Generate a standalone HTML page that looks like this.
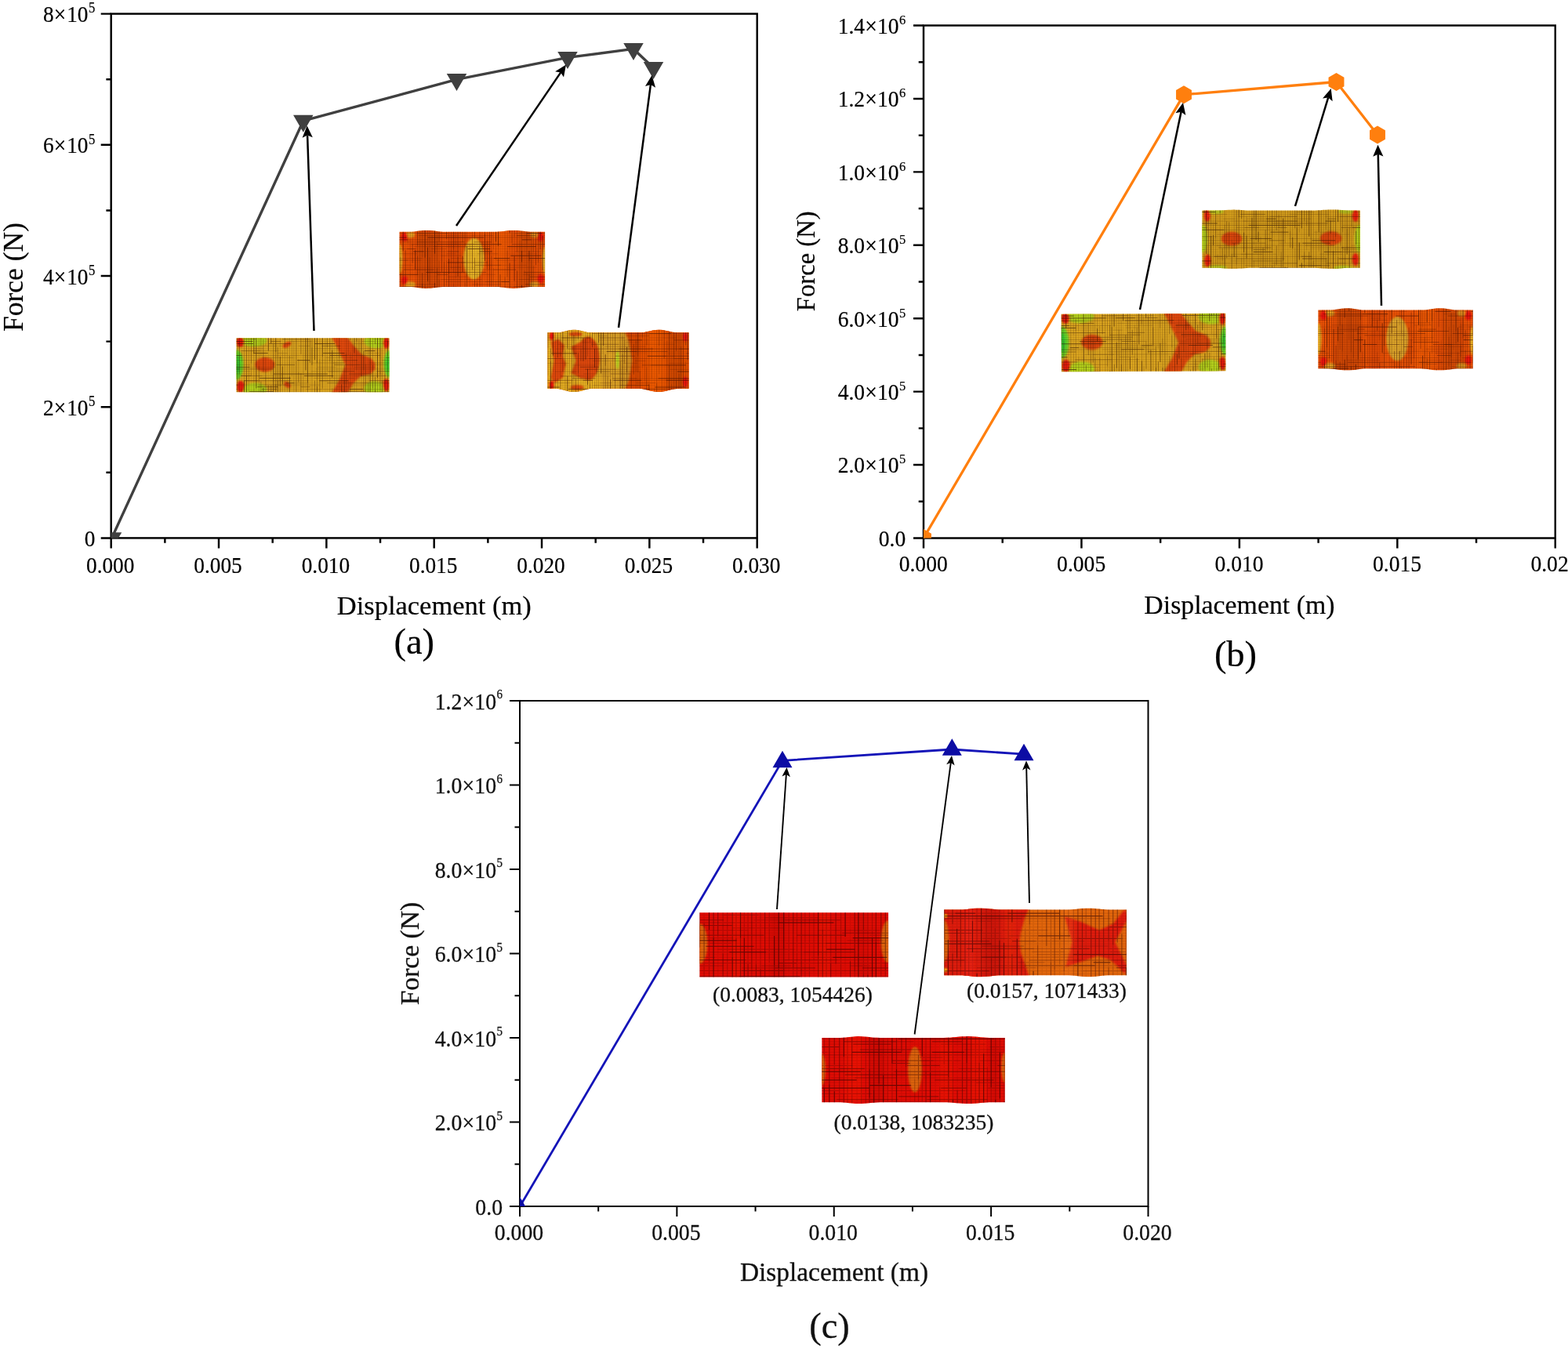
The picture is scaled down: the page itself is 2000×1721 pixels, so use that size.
<!DOCTYPE html>
<html lang="en">
<head>
<meta charset="utf-8">
<title>Force–displacement curves</title>
<style>
html,body{margin:0;padding:0;background:#fff;}
body{width:2000px;height:1721px;overflow:hidden;font-family:"Liberation Serif", "DejaVu Serif", serif;}
svg{display:block;}
</style>
</head>
<body>
<svg width="2000" height="1721" viewBox="0 0 2000 1721" font-family='"Liberation Serif", "DejaVu Serif", serif'>
<defs>
<filter id="b0.8" x="-20%" y="-20%" width="140%" height="140%"><feGaussianBlur stdDeviation="0.8"/></filter>
<filter id="b1.2" x="-20%" y="-20%" width="140%" height="140%"><feGaussianBlur stdDeviation="1.2"/></filter>
<filter id="b1.8" x="-20%" y="-20%" width="140%" height="140%"><feGaussianBlur stdDeviation="1.8"/></filter>
<filter id="b2.5" x="-20%" y="-20%" width="140%" height="140%"><feGaussianBlur stdDeviation="2.5"/></filter>
<clipPath id="clipA"><rect x="141.7" y="17.6" width="824" height="668.8"/></clipPath>
<clipPath id="clipB"><rect x="1178" y="32.5" width="805.75" height="654"/></clipPath>
<clipPath id="clipC"><rect x="663" y="894" width="801.5" height="645"/></clipPath>
<clipPath id="fc1"><path d="M0 0H195V69H0Z"/></clipPath>
<clipPath id="fc2"><path d="M0 0L3.1 0L6.2 0L9.3 0L12.4 0L15.5 -0.06L18.6 -0.3L21.7 -0.68L24.8 -1.11L27.9 -1.53L31 -1.84L34.1 -1.99L37.2 -1.95L40.3 -1.73L43.4 -1.36L46.5 -0.93L49.6 -0.51L52.7 -0.18L55.8 -0.01L58.9 0L62 0L65.1 0L68.2 0L71.3 0L74.4 0L77.5 0L80.6 0L83.7 0L86.8 0L89.9 0L93 0L96.1 0L99.2 0L102.3 0L105.4 0L108.5 0L111.6 0L114.7 0L117.8 0L120.9 0L124 0L127.1 -0.1L130.2 -0.37L133.3 -0.76L136.4 -1.2L139.5 -1.6L142.6 -1.88L145.7 -2L148.8 -1.92L151.9 -1.67L155 -1.28L158.1 -0.84L161.2 -0.44L164.3 -0.14L167.4 0L170.5 0L173.6 0L176.7 0L179.8 0L182.9 0L186 0L186 70.2L182.9 70.2L179.8 70.2L176.7 70.2L173.6 70.2L170.5 70.2L167.4 70.26L164.3 70.47L161.2 70.79L158.1 71.19L155 71.58L151.9 71.92L148.8 72.13L145.7 72.2L142.6 72.1L139.5 71.86L136.4 71.51L133.3 71.11L130.2 70.72L127.1 70.41L124 70.23L120.9 70.2L117.8 70.2L114.7 70.2L111.6 70.2L108.5 70.2L105.4 70.2L102.3 70.2L99.2 70.2L96.1 70.2L93 70.2L89.9 70.2L86.8 70.2L83.7 70.2L80.6 70.2L77.5 70.2L74.4 70.2L71.3 70.2L68.2 70.2L65.1 70.2L62 70.2L58.9 70.2L55.8 70.29L52.7 70.52L49.6 70.87L46.5 71.27L43.4 71.65L40.3 71.97L37.2 72.16L34.1 72.19L31 72.07L27.9 71.8L24.8 71.43L21.7 71.03L18.6 70.66L15.5 70.37L12.4 70.22L9.3 70.2L6.2 70.2L3.1 70.2L0 70.2Z"/></clipPath>
<clipPath id="fc3"><path d="M0 0L3.01 0L6.01 0L9.02 0L12.03 0L15.03 -0.17L18.04 -0.63L21.05 -1.3L24.05 -2.07L27.06 -2.79L30.07 -3.32L33.07 -3.58L36.08 -3.52L39.09 -3.15L42.09 -2.53L45.1 -1.77L48.11 -1.03L51.11 -0.42L54.12 -0.06L57.13 0L60.13 0L63.14 0L66.15 0L69.15 0L72.16 0L75.17 0L78.17 0L81.18 0L84.19 0L87.19 0L90.2 0L93.21 0L96.21 0L99.22 0L102.23 0L105.23 0L108.24 0L111.25 0L114.25 0L117.26 0L120.27 -0.08L123.27 -0.41L126.28 -0.96L129.29 -1.63L132.29 -2.33L135.3 -2.95L138.31 -3.39L141.31 -3.59L144.32 -3.52L147.33 -3.18L150.33 -2.63L153.34 -1.96L156.35 -1.26L159.35 -0.64L162.36 -0.2L165.37 -0.01L168.37 0L171.38 0L174.39 0L177.39 0L180.4 0L180.4 71.5L177.39 71.5L174.39 71.5L171.38 71.5L168.37 71.5L165.37 71.61L162.36 71.97L159.35 72.55L156.35 73.26L153.34 74.02L150.33 74.72L147.33 75.28L144.32 75.62L141.31 75.69L138.31 75.49L135.3 75.05L132.29 74.41L129.29 73.67L126.28 72.92L123.27 72.26L120.27 71.77L117.26 71.52L114.25 71.5L111.25 71.5L108.24 71.5L105.23 71.5L102.23 71.5L99.22 71.5L96.21 71.5L93.21 71.5L90.2 71.5L87.19 71.5L84.19 71.5L81.18 71.5L78.17 71.5L75.17 71.5L72.16 71.5L69.15 71.5L66.15 71.5L63.14 71.5L60.13 71.5L57.13 71.51L54.12 71.77L51.11 72.3L48.11 73.03L45.1 73.85L42.09 74.63L39.09 75.25L36.08 75.62L33.07 75.68L30.07 75.43L27.06 74.89L24.05 74.16L21.05 73.34L18.04 72.56L15.03 71.94L12.03 71.57L9.02 71.5L6.01 71.5L3.01 71.5L0 71.5Z"/></clipPath>
<clipPath id="fc4"><path d="M0 0H209.5V73.6H0Z"/></clipPath>
<clipPath id="fc5"><path d="M0 0L3.36 0L6.72 0L10.08 0L13.45 0L16.81 0L20.17 -0.07L23.53 -0.22L26.89 -0.43L30.25 -0.65L33.62 -0.84L36.98 -0.96L40.34 -1L43.7 -0.94L47.06 -0.8L50.42 -0.6L53.79 -0.38L57.15 -0.19L60.51 -0.05L63.87 0L67.23 0L70.59 0L73.96 0L77.32 0L80.68 0L84.04 0L87.4 0L90.77 0L94.13 0L97.49 0L100.85 0L104.21 0L107.57 0L110.93 0L114.3 0L117.66 0L121.02 0L124.38 0L127.74 0L131.1 0L134.47 0L137.83 0L141.19 0L144.55 -0.06L147.91 -0.23L151.28 -0.47L154.64 -0.73L158 -0.97L161.36 -1.13L164.72 -1.2L168.08 -1.15L171.44 -1L174.81 -0.77L178.17 -0.51L181.53 -0.26L184.89 -0.08L188.25 0L191.61 0L194.98 0L198.34 0L201.7 0L201.7 73.2L198.34 73.2L194.98 73.2L191.61 73.2L188.25 73.2L184.89 73.27L181.53 73.42L178.17 73.62L174.81 73.84L171.44 74.03L168.08 74.16L164.72 74.2L161.36 74.14L158 74L154.64 73.81L151.27 73.59L147.91 73.39L144.55 73.25L141.19 73.2L137.83 73.2L134.47 73.2L131.1 73.2L127.74 73.2L124.38 73.2L121.02 73.2L117.66 73.2L114.3 73.2L110.93 73.2L107.57 73.2L104.21 73.2L100.85 73.2L97.49 73.2L94.13 73.2L90.77 73.2L87.4 73.2L84.04 73.2L80.68 73.2L77.32 73.2L73.96 73.2L70.59 73.2L67.23 73.2L63.87 73.2L60.51 73.25L57.15 73.39L53.79 73.58L50.42 73.8L47.06 74L43.7 74.14L40.34 74.2L36.98 74.16L33.62 74.04L30.25 73.85L26.89 73.63L23.53 73.42L20.17 73.27L16.81 73.2L13.45 73.2L10.09 73.2L6.72 73.2L3.36 73.2L0 73.2Z"/></clipPath>
<clipPath id="fc6"><path d="M0 0L3.29 0L6.58 0L9.88 0L13.17 0L16.46 -0.08L19.75 -0.36L23.04 -0.81L26.33 -1.34L29.62 -1.83L32.92 -2.21L36.21 -2.39L39.5 -2.34L42.79 -2.07L46.08 -1.64L49.38 -1.11L52.67 -0.61L55.96 -0.22L59.25 -0.02L62.54 0L65.83 0L69.12 0L72.42 0L75.71 0L79 0L82.29 0L85.58 0L88.88 0L92.17 0L95.46 0L98.75 0L102.04 0L105.33 0L108.62 0L111.92 0L115.21 0L118.5 0L121.79 0L125.08 0L128.38 0L131.67 0L134.96 -0.12L138.25 -0.44L141.54 -0.91L144.83 -1.44L148.12 -1.92L151.42 -2.26L154.71 -2.4L158 -2.31L161.29 -2L164.58 -1.54L167.88 -1.01L171.17 -0.52L174.46 -0.16L177.75 0L181.04 0L184.33 0L187.62 0L190.92 0L194.21 0L197.5 0L197.5 74.6L194.21 74.6L190.92 74.6L187.62 74.6L184.33 74.6L181.04 74.6L177.75 74.67L174.46 74.92L171.17 75.31L167.88 75.78L164.58 76.26L161.29 76.66L158 76.92L154.71 77L151.42 76.88L148.12 76.59L144.83 76.17L141.54 75.69L138.25 75.23L134.96 74.86L131.67 74.64L128.38 74.6L125.08 74.6L121.79 74.6L118.5 74.6L115.21 74.6L111.92 74.6L108.62 74.6L105.33 74.6L102.04 74.6L98.75 74.6L95.46 74.6L92.17 74.6L88.88 74.6L85.58 74.6L82.29 74.6L79 74.6L75.71 74.6L72.42 74.6L69.12 74.6L65.83 74.6L62.54 74.6L59.25 74.7L55.96 74.99L52.67 75.4L49.38 75.88L46.08 76.34L42.79 76.72L39.5 76.95L36.21 76.99L32.92 76.84L29.62 76.52L26.33 76.08L23.04 75.6L19.75 75.15L16.46 74.8L13.17 74.62L9.88 74.6L6.58 74.6L3.29 74.6L0 74.6Z"/></clipPath>
<clipPath id="fc7"><path d="M0 0H240.7V82.3H0Z"/></clipPath>
<clipPath id="fc8"><path d="M0 0L3.88 0L7.76 0L11.64 0L15.52 0L19.4 0L23.28 -0.08L27.16 -0.35L31.04 -0.77L34.92 -1.23L38.8 -1.64L42.68 -1.92L46.56 -2L50.44 -1.86L54.32 -1.54L58.2 -1.1L62.08 -0.64L65.96 -0.25L69.84 -0.03L73.72 0L77.6 0L81.48 0L85.36 0L89.24 0L93.12 0L97 0L100.88 0L104.76 0L108.64 0L112.52 0L116.4 0L120.28 0L124.16 0L128.04 0L131.92 0L135.8 0L139.68 0L143.56 0L147.44 0L151.32 0L155.2 0L159.08 -0.01L162.96 -0.17L166.84 -0.52L170.72 -0.97L174.6 -1.42L178.48 -1.79L182.36 -1.98L186.24 -1.96L190.12 -1.74L194 -1.35L197.88 -0.89L201.76 -0.46L205.64 -0.14L209.52 0L213.4 0L217.28 0L221.16 0L225.04 0L228.92 0L232.8 0L232.8 83.7L228.92 83.7L225.04 83.7L221.16 83.7L217.28 83.7L213.4 83.7L209.52 83.74L205.64 83.94L201.76 84.29L197.88 84.71L194 85.13L190.12 85.47L186.24 85.67L182.36 85.68L178.48 85.51L174.6 85.19L170.72 84.78L166.84 84.35L162.96 83.99L159.08 83.76L155.2 83.7L151.32 83.7L147.44 83.7L143.56 83.7L139.68 83.7L135.8 83.7L131.92 83.7L128.04 83.7L124.16 83.7L120.28 83.7L116.4 83.7L112.52 83.7L108.64 83.7L104.76 83.7L100.88 83.7L97 83.7L93.12 83.7L89.24 83.7L85.36 83.7L81.48 83.7L77.6 83.7L73.72 83.7L69.84 83.81L65.96 84.08L62.08 84.47L58.2 84.9L54.32 85.3L50.44 85.58L46.56 85.7L42.68 85.63L38.8 85.39L34.92 85.02L31.04 84.59L27.16 84.18L23.28 83.87L19.4 83.71L15.52 83.7L11.64 83.7L7.76 83.7L3.88 83.7L0 83.7Z"/></clipPath>
<clipPath id="fc9"><path d="M0 0L3.89 0L7.79 0L11.68 0L15.57 0L19.47 0L23.36 0L27.25 -0.08L31.15 -0.37L35.04 -0.79L38.93 -1.24L42.83 -1.6L46.72 -1.79L50.61 -1.75L54.51 -1.49L58.4 -1.09L62.29 -0.63L66.19 -0.25L70.08 -0.03L73.97 0L77.87 0L81.76 0L85.65 0L89.55 0L93.44 0L97.33 0L101.23 0L105.12 0L109.01 0L112.91 0L116.8 0L120.69 0L124.59 0L128.48 0L132.37 0L136.27 0L140.16 0L144.05 0L147.95 0L151.84 0L155.73 0L159.63 -0.06L163.52 -0.26L167.41 -0.57L171.31 -0.93L175.2 -1.28L179.09 -1.57L182.99 -1.76L186.88 -1.8L190.77 -1.69L194.67 -1.45L198.56 -1.13L202.45 -0.76L206.35 -0.42L210.24 -0.16L214.13 -0.02L218.03 0L221.92 0L225.81 0L229.71 0L233.6 0L233.6 82.4L229.71 82.4L225.81 82.4L221.92 82.4L218.03 82.4L214.13 82.42L210.24 82.56L206.35 82.82L202.45 83.16L198.56 83.53L194.67 83.85L190.77 84.09L186.88 84.2L182.99 84.16L179.09 83.97L175.2 83.68L171.31 83.33L167.41 82.97L163.52 82.66L159.63 82.46L155.73 82.4L151.84 82.4L147.95 82.4L144.05 82.4L140.16 82.4L136.27 82.4L132.37 82.4L128.48 82.4L124.59 82.4L120.69 82.4L116.8 82.4L112.91 82.4L109.01 82.4L105.12 82.4L101.23 82.4L97.33 82.4L93.44 82.4L89.55 82.4L85.65 82.4L81.76 82.4L77.87 82.4L73.97 82.4L70.08 82.5L66.19 82.77L62.29 83.16L58.4 83.58L54.51 83.94L50.61 84.16L46.72 84.19L42.83 84.03L38.93 83.71L35.04 83.3L31.15 82.9L27.25 82.58L23.36 82.41L19.47 82.4L15.57 82.4L11.68 82.4L7.79 82.4L3.89 82.4L0 82.4Z"/></clipPath>
</defs>
<rect width="2000" height="1721" fill="#fff"/>
<g stroke="#000" stroke-width="2.45" fill="none" stroke-linecap="butt">
<rect x="141.7" y="17.6" width="824" height="668.8"/>
<path d="M141.7 686.4v13M210.37 686.4v6.3M279.03 686.4v13M347.7 686.4v6.3M416.37 686.4v13M485.03 686.4v6.3M553.7 686.4v13M622.37 686.4v6.3M691.03 686.4v13M759.7 686.4v6.3M828.37 686.4v13M897.03 686.4v6.3M965.7 686.4v13M141.7 686.4h-13M141.7 602.8h-6.3M141.7 519.2h-13M141.7 435.6h-6.3M141.7 352h-13M141.7 268.4h-6.3M141.7 184.8h-13M141.7 101.2h-6.3M141.7 17.6h-13"/>
</g>
<g font-family='"Liberation Serif", "DejaVu Serif", serif' fill="#000" stroke="#000" stroke-width="0.2" stroke-linejoin="round">
<text transform="translate(140.7 730.6) scale(0.905 1)" font-size="30.2" text-anchor="middle">0.000</text>
<text transform="translate(278.03 730.6) scale(0.905 1)" font-size="30.2" text-anchor="middle">0.005</text>
<text transform="translate(415.37 730.6) scale(0.905 1)" font-size="30.2" text-anchor="middle">0.010</text>
<text transform="translate(552.7 730.6) scale(0.905 1)" font-size="30.2" text-anchor="middle">0.015</text>
<text transform="translate(690.03 730.6) scale(0.905 1)" font-size="30.2" text-anchor="middle">0.020</text>
<text transform="translate(827.37 730.6) scale(0.905 1)" font-size="30.2" text-anchor="middle">0.025</text>
<text transform="translate(964.7 730.6) scale(0.905 1)" font-size="30.2" text-anchor="middle">0.030</text>
<text transform="translate(121.3 697) scale(0.905 1)" font-size="30.2" text-anchor="end">0</text>
<text transform="translate(121.3 529.8) scale(0.905 1)" font-size="30.2" text-anchor="end">2<tspan dx="0.2">×</tspan><tspan dx="1.0">10</tspan><tspan font-size="18.5" dy="-11.8" dx="0.5">5</tspan></text>
<text transform="translate(121.3 362.6) scale(0.905 1)" font-size="30.2" text-anchor="end">4<tspan dx="0.2">×</tspan><tspan dx="1.0">10</tspan><tspan font-size="18.5" dy="-11.8" dx="0.5">5</tspan></text>
<text transform="translate(121.3 195.4) scale(0.905 1)" font-size="30.2" text-anchor="end">6<tspan dx="0.2">×</tspan><tspan dx="1.0">10</tspan><tspan font-size="18.5" dy="-11.8" dx="0.5">5</tspan></text>
<text transform="translate(121.3 28.2) scale(0.905 1)" font-size="30.2" text-anchor="end">8<tspan dx="0.2">×</tspan><tspan dx="1.0">10</tspan><tspan font-size="18.5" dy="-11.8" dx="0.5">5</tspan></text>
<text x="553.8" y="784.2" font-size="34.5" text-anchor="middle">Displacement (m)</text>
<text transform="translate(28.8 353.5) rotate(-90) scale(1.0 1)" font-size="35.5" text-anchor="middle">Force (N)</text>
<text x="528.3" y="833.8" font-size="46.5" text-anchor="middle">(a)</text>
</g>
<g clip-path="url(#clipA)"><path d="M142.5 686.5L386.8 154.2L582.5 101.4L724 73.4L808 62.4L833.5 86.4" fill="none" stroke="#404040" stroke-width="3.4" stroke-linejoin="round"/><path d="M129.75 679.17h25.5L142.5 701.17ZM374.05 146.87h25.5L386.8 168.87ZM569.75 94.07h25.5L582.5 116.07ZM711.25 66.07h25.5L724 88.07ZM795.25 55.07h25.5L808 77.07ZM820.75 79.07h25.5L833.5 101.07Z" fill="#404040"/></g>
<g stroke="#000" stroke-width="2.45" fill="none" stroke-linecap="butt">
<rect x="1178" y="32.5" width="805.75" height="654"/>
<path d="M1178 686.5v13M1278.72 686.5v6.3M1379.44 686.5v13M1480.16 686.5v6.3M1580.88 686.5v13M1681.59 686.5v6.3M1782.31 686.5v13M1883.03 686.5v6.3M1983.75 686.5v13M1178 686.5h-13M1178 639.79h-6.3M1178 593.07h-13M1178 546.36h-6.3M1178 499.64h-13M1178 452.93h-6.3M1178 406.21h-13M1178 359.5h-6.3M1178 312.79h-13M1178 266.07h-6.3M1178 219.36h-13M1178 172.64h-6.3M1178 125.93h-13M1178 79.21h-6.3M1178 32.5h-13"/>
</g>
<g font-family='"Liberation Serif", "DejaVu Serif", serif' fill="#000" stroke="#000" stroke-width="0.2" stroke-linejoin="round">
<text transform="translate(1177.7 728.8) scale(0.945 1)" font-size="29.2" text-anchor="middle">0.000</text>
<text transform="translate(1379.14 728.8) scale(0.945 1)" font-size="29.2" text-anchor="middle">0.005</text>
<text transform="translate(1580.58 728.8) scale(0.945 1)" font-size="29.2" text-anchor="middle">0.010</text>
<text transform="translate(1782.01 728.8) scale(0.945 1)" font-size="29.2" text-anchor="middle">0.015</text>
<text transform="translate(1983.45 728.8) scale(0.945 1)" font-size="29.2" text-anchor="middle">0.020</text>
<text transform="translate(1155.3 696.8) scale(0.945 1)" font-size="29.2" text-anchor="end">0.0</text>
<text transform="translate(1155.3 603.37) scale(0.945 1)" font-size="29.2" text-anchor="end">2.0<tspan dx="0">×</tspan><tspan dx="0.3">10</tspan><tspan font-size="17.5" dy="-12" dx="0.5">5</tspan></text>
<text transform="translate(1155.3 509.94) scale(0.945 1)" font-size="29.2" text-anchor="end">4.0<tspan dx="0">×</tspan><tspan dx="0.3">10</tspan><tspan font-size="17.5" dy="-12" dx="0.5">5</tspan></text>
<text transform="translate(1155.3 416.51) scale(0.945 1)" font-size="29.2" text-anchor="end">6.0<tspan dx="0">×</tspan><tspan dx="0.3">10</tspan><tspan font-size="17.5" dy="-12" dx="0.5">5</tspan></text>
<text transform="translate(1155.3 323.09) scale(0.945 1)" font-size="29.2" text-anchor="end">8.0<tspan dx="0">×</tspan><tspan dx="0.3">10</tspan><tspan font-size="17.5" dy="-12" dx="0.5">5</tspan></text>
<text transform="translate(1155.3 229.66) scale(0.945 1)" font-size="29.2" text-anchor="end">1.0<tspan dx="0">×</tspan><tspan dx="0.3">10</tspan><tspan font-size="17.5" dy="-12" dx="0.5">6</tspan></text>
<text transform="translate(1155.3 136.23) scale(0.945 1)" font-size="29.2" text-anchor="end">1.2<tspan dx="0">×</tspan><tspan dx="0.3">10</tspan><tspan font-size="17.5" dy="-12" dx="0.5">6</tspan></text>
<text transform="translate(1155.3 42.8) scale(0.945 1)" font-size="29.2" text-anchor="end">1.4<tspan dx="0">×</tspan><tspan dx="0.3">10</tspan><tspan font-size="17.5" dy="-12" dx="0.5">6</tspan></text>
<text x="1580.9" y="783.4" font-size="33.8" text-anchor="middle">Displacement (m)</text>
<text transform="translate(1039 333.3) rotate(-90) scale(0.947 1)" font-size="34.5" text-anchor="middle">Force (N)</text>
<text x="1576" y="850" font-size="46.5" text-anchor="middle">(b)</text>
</g>
<g clip-path="url(#clipB)"><path d="M1178 686.5L1510 120.7L1704.5 104.5L1757 172" fill="none" stroke="#ff7f0e" stroke-width="3.3" stroke-linejoin="round"/><path d="M1178 675L1168.04 680.75L1168.04 692.25L1178 698L1187.96 692.25L1187.96 680.75ZM1510 109.2L1500.04 114.95L1500.04 126.45L1510 132.2L1519.96 126.45L1519.96 114.95ZM1704.5 93L1694.54 98.75L1694.54 110.25L1704.5 116L1714.46 110.25L1714.46 98.75ZM1757 160.5L1747.04 166.25L1747.04 177.75L1757 183.5L1766.96 177.75L1766.96 166.25Z" fill="#ff7f0e"/></g>
<g>
<g stroke="#000" stroke-width="2.0" fill="none" stroke-linecap="butt">
<rect x="663" y="894" width="801.5" height="645"/>
<path d="M663 1539v13M763.19 1539v6.5M863.38 1539v13M963.56 1539v6.5M1063.75 1539v13M1163.94 1539v6.5M1264.12 1539v13M1364.31 1539v6.5M1464.5 1539v13M663 1539h-13M663 1485.25h-6.5M663 1431.5h-13M663 1377.75h-6.5M663 1324h-13M663 1270.25h-6.5M663 1216.5h-13M663 1162.75h-6.5M663 1109h-13M663 1055.25h-6.5M663 1001.5h-13M663 947.75h-6.5M663 894h-13"/>
</g>
<g font-family='"Liberation Serif", "DejaVu Serif", serif' fill="#111" stroke="#111" stroke-width="0.3" stroke-linejoin="round">
<text transform="translate(662 1582) scale(0.94 1)" font-size="29.5" text-anchor="middle">0.000</text>
<text transform="translate(862.38 1582) scale(0.94 1)" font-size="29.5" text-anchor="middle">0.005</text>
<text transform="translate(1062.75 1582) scale(0.94 1)" font-size="29.5" text-anchor="middle">0.010</text>
<text transform="translate(1263.12 1582) scale(0.94 1)" font-size="29.5" text-anchor="middle">0.015</text>
<text transform="translate(1463.5 1582) scale(0.94 1)" font-size="29.5" text-anchor="middle">0.020</text>
<text transform="translate(641 1549.5) scale(0.94 1)" font-size="29.5" text-anchor="end">0.0</text>
<text transform="translate(641 1442) scale(0.94 1)" font-size="29.5" text-anchor="end">2.0<tspan dx="0">×</tspan><tspan dx="0.3">10</tspan><tspan font-size="16" dy="-13.5" dx="0.5">5</tspan></text>
<text transform="translate(641 1334.5) scale(0.94 1)" font-size="29.5" text-anchor="end">4.0<tspan dx="0">×</tspan><tspan dx="0.3">10</tspan><tspan font-size="16" dy="-13.5" dx="0.5">5</tspan></text>
<text transform="translate(641 1227) scale(0.94 1)" font-size="29.5" text-anchor="end">6.0<tspan dx="0">×</tspan><tspan dx="0.3">10</tspan><tspan font-size="16" dy="-13.5" dx="0.5">5</tspan></text>
<text transform="translate(641 1119.5) scale(0.94 1)" font-size="29.5" text-anchor="end">8.0<tspan dx="0">×</tspan><tspan dx="0.3">10</tspan><tspan font-size="16" dy="-13.5" dx="0.5">5</tspan></text>
<text transform="translate(641 1012) scale(0.94 1)" font-size="29.5" text-anchor="end">1.0<tspan dx="0">×</tspan><tspan dx="0.3">10</tspan><tspan font-size="16" dy="-13.5" dx="0.5">6</tspan></text>
<text transform="translate(641 904.5) scale(0.94 1)" font-size="29.5" text-anchor="end">1.2<tspan dx="0">×</tspan><tspan dx="0.3">10</tspan><tspan font-size="16" dy="-13.5" dx="0.5">6</tspan></text>
<text x="1064" y="1633.8" font-size="33.4" text-anchor="middle">Displacement (m)</text>
<text transform="translate(533.5 1216.6) rotate(-90) scale(1.0 1)" font-size="33.6" text-anchor="middle">Force (N)</text>
<text x="1058" y="1707" font-size="46.5" text-anchor="middle">(c)</text>
</g>
<g clip-path="url(#clipC)"><path d="M663 1539.3L998 970.4L1214.3 956L1306 962.2" fill="none" stroke="#1414b8" stroke-width="2.8" stroke-linejoin="round"/><path d="M650.5 1548.17h25L663 1526.67ZM985.5 979.17h25L998 957.67ZM1201.8 963.77h25L1214.3 942.27ZM1293.5 970.17h25L1306 948.67Z" fill="#0c0ca4"/></g>
</g>
<line x1="400.5" y1="422" x2="392.1" y2="172.49" stroke="#000" stroke-width="2.5"/><path d="M391.7 160.5L398.8 175.27L392.1 172.49L385.61 175.71Z" fill="#000"/>
<line x1="582" y1="288" x2="715.24" y2="92.42" stroke="#000" stroke-width="2.5"/><path d="M722 82.5L719.01 98.61L715.24 92.42L708.1 91.18Z" fill="#000"/>
<line x1="789" y1="418" x2="829.93" y2="107.9" stroke="#000" stroke-width="2.5"/><path d="M831.5 96L836.08 111.73L829.93 107.9L822.99 110.01Z" fill="#000"/>
<line x1="1454" y1="395" x2="1506.55" y2="142.75" stroke="#000" stroke-width="2.5"/><path d="M1509 131L1512.4 147.03L1506.55 142.75L1499.48 144.34Z" fill="#000"/>
<line x1="1652" y1="263" x2="1694.2" y2="124.48" stroke="#000" stroke-width="2.5"/><path d="M1697.7 113L1699.64 129.27L1694.2 124.48L1687.01 125.43Z" fill="#000"/>
<line x1="1762" y1="390" x2="1757.76" y2="196.7" stroke="#000" stroke-width="2.5"/><path d="M1757.5 184.7L1764.43 199.55L1757.76 196.7L1751.23 199.84Z" fill="#000"/>
<g>
<line x1="991" y1="1160" x2="1002.88" y2="987.98" stroke="#000" stroke-width="1.9"/><path d="M1003.5 979L1007.91 991.33L1002.88 987.98L997.44 990.61Z" fill="#000"/>
<line x1="1166.6" y1="1319.5" x2="1212.81" y2="972.92" stroke="#000" stroke-width="1.9"/><path d="M1214 964L1217.62 976.59L1212.81 972.92L1207.21 975.2Z" fill="#000"/>
<line x1="1313" y1="1152" x2="1309.2" y2="979.6" stroke="#000" stroke-width="1.9"/><path d="M1309 970.6L1314.51 982.48L1309.2 979.6L1304.02 982.71Z" fill="#000"/>
<g font-family='"Liberation Serif", "DejaVu Serif", serif' fill="#111" stroke="#111" stroke-width="0.3">
<text x="1011" y="1278.3" font-size="27.5" text-anchor="middle">(0.0083, 1054426)</text>
<text x="1335" y="1273" font-size="27.5" text-anchor="middle">(0.0157, 1071433)</text>
<text x="1165.5" y="1441" font-size="27.5" text-anchor="middle">(0.0138, 1083235)</text>
</g></g>
<g transform="translate(301.5 431.3)"><g><g clip-path="url(#fc1)"><rect x="-5" y="-8" width="205" height="85" fill="#dca620"/><g filter="url(#b1.2)"><ellipse cx="22" cy="3" rx="17" ry="8" fill="#b4d21e"/><ellipse cx="24" cy="66" rx="15" ry="9" fill="#b4d21e"/><ellipse cx="178" cy="4" rx="15" ry="9" fill="#b4d21e"/><ellipse cx="176" cy="64" rx="13" ry="9" fill="#b4d21e"/><ellipse cx="0" cy="34" rx="9" ry="19" fill="#6ad428"/><ellipse cx="195" cy="33" rx="7" ry="17" fill="#6ad428"/><ellipse cx="1" cy="34" rx="4" ry="12" fill="#38d030"/><ellipse cx="194" cy="33" rx="3" ry="10" fill="#38d030"/><ellipse cx="36.4" cy="33.8" rx="12.6" ry="9.3" fill="#e04a0e"/><path d="M121 -2L141 -2L150 10L160 21L172 26L177 32L177 40L171 46L158 49L149 58L141.5 71L121 71L131 54L139 34.5L128 11Z" fill="#e04a0e"/><ellipse cx="5" cy="5" rx="5" ry="6.5" fill="#e61a0c"/><ellipse cx="5.5" cy="62" rx="5" ry="7.5" fill="#e61a0c"/><ellipse cx="191" cy="6" rx="4" ry="7.5" fill="#e61a0c"/><ellipse cx="191" cy="60" rx="4" ry="8" fill="#e61a0c"/><ellipse cx="64.4" cy="8.5" rx="6" ry="3.3" fill="#e04a0e" transform="rotate(-30 64.4 8.5)"/><ellipse cx="65" cy="59.6" rx="5" ry="3.3" fill="#e04a0e" transform="rotate(40 65 59.6)"/></g><g stroke="#260a00" stroke-width="0.85" fill="none" opacity="0.78"><path d="M6.91 -14.54v32.31M6.91 30.27v13.97M6.91 44.23v19.98M12.91 72.71v39.96M18.91 48.38v15.33M18.91 63.72v38.3M25.36 64.08v12.65M31.36 22.66v32.53M34.36 -16.67v18.03M34.36 43.35v20.23M37.36 9.94v14.59M40.81 16.25v44.25M44.26 7.1v18.73M44.26 46.72v14M52.81 -12.53v24.14M52.81 70.78v23.27M58.81 -11.79v12.41M58.81 0.62v14.99M64.81 -16.96v24.14M70.81 48.63v41.56M73.36 -17.5v21.13M79.36 -11.09v38.12M79.36 56.33v19.83M82.36 20.58v24.17M88.36 41.08v35.84M93.91 31.59v42.5M99.91 28.07v26.15M109.81 64.3v22.05M113.26 47.35v31.97M115.81 42.63v34.8M122.26 50.47v13.18M125.26 -9.05v36.12M134.26 -15.78v18.42M134.26 2.64v41.34M137.71 0.26v34.61M142.81 21.83v30.77M145.36 2.64v14.56M147.91 37.94v18.44M147.91 56.38v28.91M156.46 55.38v35.85M177.01 7.75v21.77M177.01 29.52v20.09M192.91 70.22v32.74M195.91 -12.25v32.57M195.91 20.32v29.87M24.61 1.4h34.07M93.34 1.4h33.07M126.4 1.4h32.42M158.82 1.4h14.52M20.9 4.3h22.83M56.64 4.3h12.36M95.92 4.3h30.56M126.48 4.3h33.27M176.14 4.3h12.45M21.56 7.2h19.67M69.07 7.2h30.61M125.59 7.2h23.75M188.37 7.2h25.48M57.95 10.1h21.05M93.64 10.1h15.32M132.59 10.1h34.36M166.95 10.1h11.73M178.68 10.1h18.88M197.56 10.1h35.25M-11.47 13.44h33.64M34.62 13.44h36.97M71.6 13.44h29.02M132.99 13.44h17.36M183.32 13.44h32.94M-14.07 16.34h19.99M54.12 16.34h39.57M93.69 16.34h10.12M103.81 16.34h12.68M116.48 16.34h26.24M142.72 16.34h20.86M176.88 16.34h37.47M-15.91 19.24h21.27M5.36 19.24h16.13M40.25 19.24h11.78M65.47 19.24h33.28M98.75 19.24h11.87M138.14 19.24h11.09M149.23 19.24h15.54M181.83 19.24h27.84M183.77 22.14h21.98M7.54 25.04h25.47M72.72 25.04h17.13M89.85 25.04h24.18M147.93 25.04h28.18M176.11 25.04h14.71M24.94 28.37h25.48M50.42 28.37h27.16M93.7 28.37h14.47M154.56 28.37h30.81M-9.04 31.71h33.68M24.64 31.71h37.5M62.15 31.71h34.79M137.96 31.71h19.34M157.31 31.71h12.28M17.6 34.17h33.53M74.49 34.17h31.35M105.84 34.17h18.8M193.14 34.17h37.05M49.77 37.07h12.61M62.37 37.07h21.3M83.67 37.07h19.29M127.06 37.07h23.41M177.46 37.07h15.38M192.84 37.07h11.09M47.23 39.54h37.81M85.04 39.54h16.16M17.87 42.44h28.26M46.13 42.44h19.93M66.06 42.44h29.52M150.57 42.44h28.34M20.02 45.77h27.22M116.46 45.77h27.02M187.35 45.77h22.52M-15.29 48.24h20.84M59.64 48.24h26.81M-7.86 51.14h26.44M18.58 51.14h10.96M69.15 51.14h29.75M150.49 51.14h34.11M184.6 51.14h15.99M200.59 51.14h14.29M-10.06 54.47h20.09M92.7 54.47h13.08M142.68 54.47h26.94M-14.25 57.37h13.52M-0.73 57.37h38.17M37.44 57.37h25.62M92.67 57.37h23M106.94 59.84h36.14M184.39 59.84h22.65M-6.99 62.3h33.77M52.91 62.3h10.02M62.93 62.3h18.98M93.79 62.3h34.46M148.95 62.3h11.38M160.32 62.3h36.96M1.29 65.2h30.78M51.55 65.2h36.98M-14.7 68.1h31.39M47.58 68.1h23.35M70.93 68.1h16.7M87.63 68.1h31.32M118.94 68.1h15.43" stroke-opacity="0.15"/><path d="M1.36 -13.6v42.5M1.36 57.66v18.09M3.91 -12.47v16.68M3.91 45.6v31.65M6.91 17.77v12.5M6.91 64.22v27.31M9.91 -13.19v33.13M9.91 19.94v33.86M12.91 -11.15v19.58M15.91 -17.27v13.73M15.91 -3.54v35.39M15.91 31.85v30.69M15.91 62.54v34.27M18.91 32.49v15.89M22.36 18.91v37.39M22.36 56.3v24.66M28.81 -9v44.65M28.81 56.17v22.86M31.36 10.15v12.51M37.36 -14.87v24.81M37.36 24.53v15.6M37.36 60.55v24.92M44.26 25.84v20.88M47.26 -8.92v16.57M55.81 -17.01v40.75M58.81 15.61v20.49M58.81 58.99v34.91M61.81 11.36v27.87M61.81 39.24v35.05M64.81 7.18v32.19M64.81 39.37v36.87M64.81 76.24v42.7M67.81 -11.27v33.97M70.81 -10.2v42.39M70.81 32.19v16.44M73.36 3.63v26.87M73.36 30.51v19.06M73.36 49.57v32.65M76.36 68.37v34.38M79.36 27.03v16.48M85.36 -13.35v13.19M85.36 -0.15v37.69M85.36 37.54v43.25M93.91 74.09v20M96.46 34.52v40.24M96.46 74.76v14.73M106.36 -17.49v14.84M106.36 -2.65v29.38M113.26 -13.24v30.91M113.26 17.67v29.68M115.81 12.06v30.57M119.26 29.8v25.34M119.26 55.13v28.27M122.26 -13.25v15.58M122.26 2.33v12.97M122.26 63.65v12.39M122.26 76.04v35.88M125.26 27.07v28.85M125.26 55.92v18.53M125.26 74.44v26.41M128.26 -16.25v32.32M128.26 16.07v40.51M128.26 56.58v19.21M131.26 26.12v41.79M134.26 43.97v14.91M137.71 -15.9v16.16M140.26 -15.05v32.94M140.26 62.85v38.49M142.81 -8.37v30.21M142.81 52.6v18.09M145.36 17.2v24.9M145.36 42.1v23.7M147.91 -16.44v17.98M147.91 1.54v36.4M150.46 19.24v32.77M150.46 52.01v31.79M153.46 41.04v38.88M156.46 18.13v37.25M159.46 49v13.64M159.46 62.64v43.73M162.46 -14.6v30.8M165.01 -9.15v15.57M165.01 6.42v26.64M165.01 70.18v12.36M168.01 -17.06v30.15M168.01 13.1v43.92M170.56 70.05v40.24M174.01 -8.59v43.19M174.01 63.99v24.06M180.01 50.55v26.17M180.01 76.73v44.11M183.46 66.61v13.66M186.01 -10.04v13.72M186.01 3.68v16.1M186.01 19.78v34.04M189.46 -16.15v16.52M189.46 0.37v16.25M189.46 16.62v28.6M192.91 -14.99v18.27M-9.54 1.4h20.15M173.34 1.4h35.09M68.99 4.3h26.93M159.74 4.3h16.4M188.59 4.3h31.75M-14.82 7.2h16.56M149.34 7.2h39.03M-6.24 10.1h30.31M24.07 10.1h33.88M79 10.1h14.64M22.17 13.44h12.45M100.62 13.44h32.37M150.36 13.44h32.96M30.56 16.34h12.17M42.73 16.34h11.39M52.02 19.24h13.44M164.77 19.24h17.06M7.13 22.14h38.12M45.25 22.14h38.26M83.51 22.14h35.6M-14.01 25.04h21.55M33.01 25.04h39.71M114.02 25.04h33.9M-7.31 28.37h32.25M108.17 28.37h20.55M185.37 28.37h32.46M96.94 31.71h26.3M169.59 31.71h24.02M193.6 31.71h20.79M-12.68 34.17h30.28M157.8 34.17h35.34M17.12 37.07h32.65M102.96 37.07h24.09M150.46 37.07h13.06M163.52 37.07h13.94M101.2 39.54h30.74M131.94 39.54h37.64M169.58 39.54h31.81M-15.82 42.44h33.69M95.58 42.44h21.33M-8.34 45.77h28.36M173.26 45.77h14.09M33.33 48.24h26.3M123.73 48.24h34.53M190.59 48.24h17.23M98.9 51.14h30.14M129.04 51.14h21.45M70.61 54.47h22.1M73.78 57.37h18.88M2.4 59.84h26.35M66.96 59.84h39.98M143.08 59.84h26.38M169.47 59.84h14.92M128.25 62.3h20.69M88.53 65.2h29.06M117.59 65.2h26.79M161.47 65.2h39.29M164.31 68.1h21.18M185.49 68.1h36.53" stroke-opacity="0.35"/><path d="M1.36 28.9v28.76M1.36 75.75v32.79M3.91 4.21v41.38M9.91 74.98v44.86M12.91 8.43v14.32M12.91 22.74v25.21M18.91 -11.33v43.81M25.36 76.73v44.86M28.81 35.64v20.52M31.36 -8.74v18.89M31.36 55.19v31.38M34.36 1.37v41.98M37.36 40.13v20.42M40.81 60.5v27.82M44.26 60.71v24.17M47.26 7.65v22.92M50.26 18.03v12.7M50.26 30.73v27.91M52.81 11.61v42.9M55.81 61.83v30.9M61.81 -16.38v14.76M61.81 -1.62v12.98M67.81 22.71v26.22M76.36 -15.16v39.78M76.36 24.62v22.57M76.36 47.19v21.18M79.36 43.51v12.82M79.36 76.16v13.55M82.36 -9.09v29.67M82.36 44.74v18.54M82.36 63.28v20.45M88.36 76.91v26.97M90.91 57.3v27.3M93.91 -8.99v40.58M96.46 -17.77v29.72M99.91 54.23v29.59M102.91 32.29v29.1M106.36 26.73v36.05M106.36 62.78v29.25M109.81 23.59v40.71M115.81 -13.16v25.22M119.26 -12.59v42.39M128.26 75.78v29.92M131.26 -10.33v36.45M137.71 34.87v18.63M140.26 17.9v44.95M145.36 -13.8v16.44M145.36 65.8v24.31M153.46 4.47v36.57M156.46 -16.8v34.93M162.46 41.05v33.19M165.01 33.06v37.12M168.01 57.01v44.84M174.01 34.61v29.38M177.01 -13.61v21.36M177.01 49.61v17.17M183.46 46.51v20.09M186.01 53.82v20.65M186.01 74.47v25.84M189.46 45.22v28.74M189.46 73.96v21.07M192.91 23.18v28.57M192.91 51.75v18.47M195.91 50.19v14.85M195.91 65.05v30.17M10.61 1.4h14M58.68 1.4h34.66M43.73 4.3h12.91M41.23 7.2h27.84M108.96 10.1h23.63M5.92 16.34h24.64M141.19 22.14h29.81M171 22.14h12.77M190.82 25.04h17.78M128.73 28.37h25.84M123.24 31.71h14.73M51.13 34.17h23.36M124.65 34.17h33.15M3.97 39.54h23.01M26.98 39.54h20.25M116.91 42.44h33.66M178.91 42.44h33M143.48 45.77h29.78M19.27 48.24h14.07M158.25 48.24h13.68M171.93 48.24h18.66M27.35 54.47h11.6M38.96 54.47h31.65M169.62 54.47h18.45M115.66 57.37h19.66M135.32 57.37h36.48M171.8 57.37h17.33M189.13 57.37h17.27M28.75 59.84h38.21M81.91 62.3h11.88M-14.79 65.2h16.08M32.07 65.2h19.48M200.76 65.2h19.18M134.38 68.1h29.94" stroke-opacity="0.6"/><path d="M9.91 53.8v21.18M12.91 47.96v24.75M22.36 -9.88v28.79M25.36 -8v40.52M25.36 32.52v31.56M34.36 63.58v36.4M40.81 -12.91v29.16M44.26 -14.14v21.25M47.26 30.57v29.22M47.26 59.79v31.47M50.26 -17.1v35.13M50.26 58.65v22.52M52.81 54.5v16.27M55.81 23.74v38.09M58.81 36.1v22.89M61.81 74.28v32.28M67.81 48.92v42.17M88.36 -11.94v38.13M88.36 26.2v14.88M90.91 -11.77v30.77M90.91 19v38.29M96.46 11.95v22.57M99.91 -12.21v21.08M99.91 8.87v19.2M102.91 -12.71v44.99M102.91 61.39v26.53M109.81 -10.57v34.15M122.26 15.31v35.17M131.26 67.91v22.39M134.26 58.88v26.35M137.71 53.5v42.08M142.81 70.69v39.73M150.46 -16.02v35.25M153.46 -16.05v20.52M159.46 -11.02v15.33M159.46 4.31v44.69M162.46 16.2v24.86M162.46 74.25v37.14M170.56 -13.49v34.06M170.56 20.56v24.75M170.56 45.32v24.73M177.01 66.77v24.87M180.01 -8.5v44.63M180.01 36.13v14.43M183.46 -8.98v38.74M183.46 29.75v16.76M192.91 3.28v19.9M-11.49 4.3h32.38M1.75 7.2h19.81M99.69 7.2h25.91M163.59 16.34h13.3M21.49 19.24h18.76M110.62 19.24h27.52M-14.95 22.14h22.07M119.11 22.14h22.08M77.57 28.37h16.13M-15.37 37.07h32.49M-7 39.54h10.97M47.25 45.77h38.01M85.25 45.77h31.2M5.55 48.24h13.72M86.45 48.24h37.28M29.54 51.14h39.61M10.03 54.47h17.32M105.78 54.47h36.9M188.07 54.47h23.91M63.06 57.37h10.73M-10.76 59.84h13.16M26.79 62.3h26.13M197.28 62.3h24.95M144.38 65.2h17.09M16.7 68.1h30.88" stroke-opacity="0.9"/></g></g></g></g>
<g transform="translate(509.3 295.7)"><g><g clip-path="url(#fc2)"><rect x="-5" y="-8" width="196" height="86.2" fill="#ea5206"/><g filter="url(#b1.2)"><ellipse cx="0" cy="34.62" rx="4" ry="19.23" fill="#e6b428"/><ellipse cx="186" cy="36.54" rx="3.5" ry="17.31" fill="#e6b428"/><ellipse cx="14" cy="3.85" rx="6" ry="3.85" fill="#e6b428" opacity="0.8"/><ellipse cx="14" cy="67.32" rx="7" ry="3.85" fill="#e6b428" opacity="0.8"/><ellipse cx="172" cy="67.32" rx="6" ry="3.85" fill="#e6b428" opacity="0.8"/><ellipse cx="172" cy="3.85" rx="5" ry="3.85" fill="#e6b428" opacity="0.7"/><ellipse cx="95.2" cy="34.43" rx="13.2" ry="26.45" fill="#e6b428"/><ellipse cx="6.6" cy="6.35" rx="4" ry="5.77" fill="#f01810"/><ellipse cx="6.6" cy="62.03" rx="4" ry="5.77" fill="#f01810"/><ellipse cx="180.4" cy="6.35" rx="4" ry="5.77" fill="#f01810"/><ellipse cx="180.4" cy="60.1" rx="4" ry="5.77" fill="#f01810"/></g><g filter="url(#b2.5)"><rect x="22" y="-8" width="30" height="86.2" fill="#7a2000" opacity="0.2"/><rect x="118" y="-8" width="22" height="86.2" fill="#ff6a08" opacity="0.25"/><rect x="150" y="-8" width="22" height="86.2" fill="#7a2000" opacity="0.18"/><rect x="62" y="-8" width="14" height="86.2" fill="#7a2000" opacity="0.12"/></g><g stroke="#2a0600" stroke-width="0.85" fill="none" opacity="0.8"><path d="M1.42 -14.57v33.99M7.87 -14.81v38.33M10.87 14.7v32.51M10.87 47.21v35M13.87 67.84v33.14M16.87 40.12v34.23M20.32 -13.73v37.25M20.32 48.09v13.08M20.32 61.17v34.3M26.32 69.88v30.11M29.32 32.53v19.97M41.77 -8.29v12.12M41.77 50.82v27.57M50.77 12.55v24.52M54.22 51.02v31.16M57.22 -11.24v34.61M60.22 9.14v28.02M60.22 68.77v41.18M66.22 47.12v37.92M69.22 52.19v13.72M71.77 17.27v22.14M71.77 58.86v20.31M80.77 51.35v29.25M89.77 -16.62v32.03M93.22 48.55v41.46M96.22 8.91v24.09M99.22 -15.54v39.69M99.22 24.15v14.06M99.22 38.21v14.78M109.12 37.19v16.69M109.12 53.88v28.02M120.22 22.17v23.97M123.22 35.51v27.18M128.77 -13.16v33.37M128.77 20.21v34.16M131.77 -15.93v19.54M131.77 3.61v34.7M131.77 38.31v21.04M131.77 59.35v19M143.77 32.19v39.42M150.22 25.65v24.11M153.67 -9.08v19.89M159.67 0.27v25.7M159.67 25.97v23.07M165.67 9.49v14.71M165.67 70.67v29.58M171.22 26.08v17.59M174.22 42.54v30.31M179.77 66.98v20.83M182.77 -17.11v22.45M185.77 49.96v38.66M92.49 1.95h15.06M107.55 1.95h23.43M130.98 1.95h16.05M-12.55 4.85h37.24M119.65 4.85h29.89M173.69 4.85h32.24M9.24 7.32h26.86M172.39 7.32h28.92M46.88 10.22h22.8M69.67 10.22h34.95M104.62 10.22h16M120.62 10.22h35.87M178.62 10.22h14.22M83.15 13.12h12.07M117.36 13.12h39.33M156.7 13.12h13.22M169.92 13.12h32.79M130.39 16.02h13.18M-9.41 18.92h13.59M4.18 18.92h14.74M116.2 18.92h21.6M174.51 18.92h28.23M21.23 21.82h19.46M60.07 21.82h15.22M75.29 21.82h11.99M115.97 21.82h10.18M126.15 21.82h20.66M146.81 21.82h20.31M167.12 21.82h22.71M189.84 21.82h11.79M-14.14 25.15h32.15M76.12 25.15h26.06M118.49 25.15h28.68M180.17 25.15h14.11M22.81 28.05h37.54M72.07 28.05h17.22M89.29 28.05h10.39M126.07 28.05h35.91M175.71 28.05h35.38M-10.72 30.52h29.23M18.51 30.52h34.6M78.98 30.52h22.83M101.81 30.52h24.28M126.1 30.52h15.9M181.1 30.52h34.32M-13.27 33.85h12.17M29.5 33.85h36.45M82.66 33.85h22.34M28.15 36.32h38.79M66.94 36.32h18.52M85.46 36.32h38.13M149.23 36.32h25.69M174.92 36.32h25M-11.33 39.22h37.51M26.18 39.22h35.31M113 39.22h38.02M151.02 39.22h20.49M171.51 39.22h21.97M17.94 42.55h16.24M34.17 42.55h37.72M71.9 42.55h24.66M162.8 42.55h26.22M189.02 42.55h27.22M102.71 45.45h34.22M175.68 45.45h13.76M189.44 45.45h22.16M-9.07 48.35h14.46M148.84 48.35h28.44M177.28 48.35h34.46M-0.88 51.69h35.05M110.91 51.69h31.24M142.15 51.69h16.65M36.09 54.59h12M62.37 54.59h22.57M122.93 54.59h34.97M181.02 54.59h14.24M-8.03 57.49h38.52M30.49 57.49h30.54M87.3 57.49h17.39M104.69 57.49h37M141.69 57.49h24.84M-7.98 60.82h32.25M24.27 60.82h28.64M105.37 60.82h13.53M118.9 60.82h33.51M2.72 63.72h31.68M34.4 63.72h24.63M140.5 63.72h27.25M178.56 63.72h31.9M-13.83 67.06h20.99M46.21 67.06h19.56M65.77 67.06h27.2M129.93 67.06h18.3M148.23 67.06h12.6M73.52 69.96h34.92M108.45 69.96h12.56M169.65 69.96h27.12" stroke-opacity="0.15"/><path d="M1.42 19.42v12.36M4.87 24.58v24.13M4.87 67.65v18.59M7.87 65.84v33.85M10.87 -17.47v15.71M10.87 -1.75v16.46M13.87 1.69v34.05M13.87 35.74v32.11M16.87 -17.76v33.9M16.87 74.35v19.75M23.32 -15.72v15.39M23.32 17.54v13.22M23.32 54.12v13.72M23.32 67.83v18.89M26.32 -14.97v40.23M26.32 25.26v44.62M29.32 -17.12v12.22M29.32 -4.9v37.43M32.77 33.06v34.06M36.22 -12.77v32.69M36.22 63.16v17.35M38.77 -10.78v43.15M38.77 67.33v19.06M41.77 3.84v30.41M41.77 34.25v16.57M45.22 28.11v37.09M48.22 -13.8v23.47M48.22 9.67v36.28M50.77 37.07v23.65M54.22 -12.92v32.17M57.22 23.38v14.99M60.22 37.16v31.61M63.22 -8.08v23.89M63.22 15.81v18.64M66.22 -13.01v24.83M66.22 11.83v35.3M69.22 22.99v29.21M69.22 65.92v30.82M71.77 -11.22v28.5M71.77 39.41v19.45M74.77 56.88v41.61M77.77 2.48v38.27M80.77 13.34v17.6M83.77 24.39v40.35M86.32 -0.15v18.45M89.77 15.4v34.6M89.77 50.01v26.8M93.22 -12.86v21.68M99.22 52.99v12.28M105.67 -14.29v27.21M105.67 46.36v38.4M112.12 -8.13v19.54M112.12 47.54v36.99M117.67 14.41v16.19M117.67 74.02v20.32M120.22 -9.19v31.37M120.22 46.14v32.49M123.22 12.61v22.9M123.22 62.69v25.19M126.22 18.12v16.68M134.77 -12.58v42.92M134.77 30.34v27.36M137.77 -13.9v37.88M137.77 57.74v40.02M140.77 1.75v38.07M143.77 14.27v17.92M143.77 71.61v26.95M146.77 6.44v24.53M146.77 62.81v16.82M150.22 -17.1v42.75M153.67 10.81v30.03M153.67 40.83v28.15M153.67 68.99v43.82M156.22 -12.36v12.71M156.22 0.35v23.85M156.22 38.77v29.23M159.67 -12v12.27M159.67 49.04v34.37M162.67 15.24v36.64M165.67 -14.5v23.99M168.67 -17.78v19.37M168.67 1.59v33.81M171.22 -10.85v36.93M171.22 43.67v32.54M171.22 76.2v15.1M174.22 -11.56v13.32M174.22 72.85v32.58M177.22 -17.37v13.9M177.22 39.28v35.31M179.77 22.42v44.56M182.77 48.99v33.79M185.77 15.89v34.07M-10.68 1.95h33.29M62.15 1.95h30.34M147.03 1.95h15.27M182.15 1.95h30.52M24.69 4.85h35.36M60.05 4.85h15.37M75.43 4.85h12.52M87.95 4.85h31.7M107.75 7.32h36.81M144.56 7.32h27.83M10.53 10.22h36.35M168.37 10.22h10.25M-6.89 13.12h29.53M-13.21 16.02h13.57M0.35 16.02h15.07M18.93 18.92h24.97M-9.12 21.82h18.94M40.69 21.82h19.39M31.28 25.15h30.54M147.17 25.15h12.43M159.6 25.15h20.57M-9.37 28.05h13.03M3.66 28.05h19.15M60.34 28.05h11.72M99.67 28.05h26.39M161.98 28.05h13.73M53.12 30.52h25.86M-1.09 33.85h15.48M14.39 33.85h15.11M65.95 33.85h16.71M105 33.85h15.35M140.69 33.85h24.9M10.74 36.32h17.41M123.59 36.32h11.99M135.57 36.32h13.66M-8.8 42.55h26.73M129.89 42.55h32.91M-9.71 45.45h25.14M15.44 45.45h26.51M41.94 45.45h23M79.28 45.45h23.42M136.92 45.45h16.15M153.08 45.45h22.6M44.23 48.35h23.39M67.62 48.35h24.3M91.92 48.35h12.98M104.9 48.35h15.25M24.14 54.59h11.95M84.93 54.59h38M157.9 54.59h23.12M61.04 57.49h26.26M52.92 60.82h27.3M80.22 60.82h25.15M152.4 60.82h32.31M184.72 60.82h34.24M-11.43 63.72h14.15M59.02 63.72h21M80.02 63.72h29.65M167.75 63.72h10.81M7.17 67.06h39.05M92.97 67.06h36.96M-13.38 69.96h16.38M27.35 69.96h20.64M47.99 69.96h25.53M121 69.96h13.6M134.6 69.96h10.97" stroke-opacity="0.35"/><path d="M1.42 31.78v21.04M1.42 52.82v34.79M4.87 48.72v18.94M7.87 23.52v42.32M13.87 -13.07v14.76M16.87 16.14v23.98M23.32 -0.33v17.88M23.32 30.76v23.36M29.32 52.5v13.32M32.77 67.12v15.9M38.77 32.37v34.97M48.22 45.95v12.56M48.22 58.51v41.83M50.77 -17.11v29.65M50.77 60.72v42.82M54.22 19.25v31.77M57.22 38.37v34.96M60.22 -9.76v18.9M63.22 53.73v28.53M69.22 -12.08v35.06M74.77 -10.86v42.89M77.77 -10.59v13.08M77.77 40.75v25.99M77.77 66.74v23.21M80.77 -11.85v25.19M83.77 -17.8v42.2M83.77 64.74v40.8M86.32 -13.56v13.4M86.32 56.98v44.39M89.77 76.81v33.5M93.22 8.82v39.73M96.22 -8.21v17.12M96.22 33v39.83M99.22 65.27v15.73M102.67 -17.23v35.95M102.67 58.62v31.58M105.67 12.92v33.45M109.12 -11.37v13.94M112.12 11.42v36.12M115.12 -15.65v41.1M115.12 48.75v32.97M117.67 -10.31v24.72M117.67 30.6v43.43M126.22 34.8v44.73M128.77 54.37v20.26M128.77 74.63v44.66M134.77 57.69v35.6M137.77 23.98v33.75M143.77 -14.9v29.17M146.77 -9.58v16.02M150.22 49.77v42.05M162.67 -10.2v25.44M162.67 51.89v37.64M165.67 37.6v16.64M168.67 35.4v30.79M168.67 66.18v36.8M174.22 1.77v40.77M177.22 -3.47v42.75M185.77 -16.6v32.5M22.61 1.95h39.55M149.54 4.85h24.16M22.64 13.12h35.19M57.84 13.12h25.32M95.23 13.12h22.14M15.43 16.02h32.27M143.57 16.02h30.88M174.45 16.02h17.7M43.89 18.92h35.75M79.64 18.92h36.56M9.82 21.82h11.41M61.81 25.15h14.31M-15.43 36.32h26.18M84.61 39.22h28.39M96.55 42.55h33.33M64.94 45.45h14.34M5.4 48.35h38.84M120.16 48.35h28.68M83.91 51.69h27.01M158.8 51.69h37.86M48.08 54.59h14.28M166.53 57.49h36.19M109.67 63.72h20.44M160.83 67.06h26.75M2.99 69.96h24.36M145.57 69.96h24.08" stroke-opacity="0.6"/><path d="M4.87 -8.02v32.6M20.32 23.52v24.57M29.32 65.83v44.47M32.77 -9.55v42.61M36.22 19.92v43.24M45.22 -14.25v42.36M45.22 65.2v31.42M57.22 73.33v33.76M63.22 34.46v19.27M74.77 32.04v24.84M80.77 30.94v20.4M86.32 18.3v38.69M96.22 72.83v30.11M102.67 18.71v39.9M109.12 2.56v34.62M115.12 25.45v23.3M123.22 -11.1v23.71M126.22 -14.21v32.33M140.77 -11.07v12.81M140.77 39.81v43.92M146.77 30.96v31.84M156.22 24.2v14.56M156.22 67.99v39.8M165.67 24.19v13.4M165.67 54.24v16.43M177.22 74.6v16.02M179.77 -14.1v36.52M182.77 5.33v43.66M162.3 1.95h19.84M-14.58 7.32h23.81M36.1 7.32h37.86M73.95 7.32h33.8M-7.63 10.22h18.16M156.49 10.22h11.87M47.7 16.02h23.08M70.78 16.02h22.19M92.97 16.02h37.42M137.8 18.92h36.71M87.28 21.82h28.69M18.01 25.15h13.26M102.18 25.15h16.31M141.99 30.52h23.97M165.96 30.52h15.14M120.35 33.85h20.35M165.59 33.85h37.74M61.49 39.22h23.13M-11.94 51.69h11.07M34.18 51.69h33.04M67.22 51.69h16.69M-12.28 54.59h36.42M130.11 63.72h10.39M187.58 67.06h22.8" stroke-opacity="0.9"/></g></g></g></g>
<g transform="translate(698.2 424.3)"><g><g clip-path="url(#fc3)"><rect x="-5" y="-8" width="190.4" height="87.5" fill="#ea5206"/><g filter="url(#b1.2)"><rect x="-5" y="-8" width="80" height="87.5" fill="#e6b024"/><path d="M4 12L14 8L22 16L20 30L24 40L20 58L10 64L4 58L8 36Z" fill="#e04a0e"/><ellipse cx="52" cy="33" rx="15" ry="28" fill="#e04a0e"/><path d="M30 18L45 10L45 60L30 52L36 36Z" fill="#e04a0e"/><ellipse cx="36" cy="2" rx="9" ry="3" fill="#e04a0e"/><ellipse cx="38" cy="70" rx="9" ry="3.5" fill="#e04a0e"/><path d="M68 -8L96 -8L104 12L108 36L104 60L96 80L68 80Z" fill="#dea428"/><ellipse cx="89.5" cy="35" rx="2" ry="12" fill="#b8d820"/><path d="M98 -8L190 -8L190 80L98 80L105 60L109 36L105 12Z" fill="#ea5206"/><ellipse cx="5.5" cy="4.5" rx="3.5" ry="6" fill="#f01810"/><ellipse cx="5.5" cy="67" rx="3.5" ry="6" fill="#f01810"/><ellipse cx="176" cy="5.5" rx="3.5" ry="6" fill="#f01810"/><ellipse cx="176" cy="63" rx="3.5" ry="7" fill="#f01810"/></g><g filter="url(#b2.5)"><rect x="128" y="-8" width="20" height="87.5" fill="#ff6a08" opacity="0.25"/><rect x="152" y="-8" width="20" height="87.5" fill="#7a2000" opacity="0.2"/><rect x="100" y="-8" width="16" height="87.5" fill="#7a2000" opacity="0.1"/></g><g stroke="#2a0600" stroke-width="0.85" fill="none" opacity="0.8"><path d="M0.78 54.71v36.22M4.23 -16.46v36.57M7.23 50.02v26.41M13.23 31.83v26.63M19.68 49.62v42.79M28.23 53.72v21.75M28.23 75.46v34.57M39.33 8.43v17.18M42.78 35.97v31.79M42.78 67.77v37.54M45.78 -17.91v24.86M45.78 36.37v16.9M45.78 53.27v24.16M48.78 34.48v44.67M48.78 79.15v29.66M51.33 30.24v16.15M57.33 18.75v41.62M60.33 44.81v17.51M65.43 78.53v12.12M68.43 52.19v24.37M73.98 -12.82v28.53M73.98 15.71v12.18M80.43 24.5v12.71M83.43 62.29v28.83M89.88 -8.93v35.52M89.88 26.6v17.89M89.88 44.48v30.04M89.88 74.53v36.27M101.43 -12.31v30.53M103.98 19.18v44.72M103.98 63.9v18.11M109.98 -9.11v23.51M109.98 53.46v36.75M121.08 45.46v25.91M124.08 61.96v16.88M133.08 -8.49v27.22M133.08 58.86v26.93M136.53 -8.43v35.85M136.53 27.42v44.08M142.53 52.98v25.96M148.98 33.27v28.14M148.98 61.41v35.88M152.43 -16.71v27.36M158.43 -8.02v35.67M158.43 27.65v37.76M164.43 23.32v17.79M173.43 69.66v42.38M176.43 16.14v20.95M-13.16 1.35h38.74M25.58 1.35h32.11M184.8 1.35h30.61M-14.16 4.25h24.91M10.75 4.25h26.09M36.83 4.25h12.33M49.17 4.25h15.92M76.51 4.25h24.2M129.95 4.25h30.69M160.64 4.25h19.04M55.2 6.72h11.51M99.24 6.72h30.19M165.43 6.72h16.19M181.62 6.72h39.67M46.97 9.62h18.6M147.31 9.62h14.15M183.28 9.62h19.44M-8.83 12.52h16.82M7.99 12.52h24.46M32.45 12.52h12M61 12.52h39.09M117.53 12.52h19.57M137.1 12.52h19.83M156.93 12.52h30.63M-9.67 14.98h22.41M31.63 14.98h24.39M162.59 14.98h38.34M-15.55 17.88h31.61M45.02 17.88h28.21M125.56 17.88h36M161.56 17.88h12.17M173.73 17.88h30.87M-14.24 20.78h24.93M-9.66 24.12h24.34M14.68 24.12h21.4M36.08 24.12h39.43M153.24 24.12h35.41M-10.14 26.58h15.16M37.8 26.58h38.96M76.76 26.58h26.25M103.01 26.58h12.4M115.41 26.58h28.34M143.75 26.58h33.55M-9.11 29.92h16.14M7.02 29.92h39.41M46.43 29.92h11.1M57.54 29.92h29.22M111.66 29.92h15.94M183.6 29.92h21.25M182.91 33.25h27.01M-8.78 36.15h37.91M29.13 36.15h28.54M99.31 36.15h12.22M125.37 36.15h16.29M141.66 36.15h38.86M180.52 36.15h11.13M27.85 39.05h38.72M66.57 39.05h18.89M85.46 39.05h11.08M114.78 39.05h24.31M139.09 39.05h15.52M-6.42 41.52h38.43M61.03 41.52h20.68M81.71 41.52h26.86M108.57 41.52h12.31M176.69 41.52h24.09M-6.57 43.98h30.34M23.76 43.98h18.01M65.94 43.98h28.47M118.6 43.98h33.37M151.97 43.98h36.84M-9.85 46.88h20.47M10.62 46.88h22.17M32.78 46.88h15.06M102.08 46.88h14.39M116.47 46.88h39.87M-11.13 49.78h20.92M37.24 49.78h25.1M119.63 49.78h31.32M150.95 49.78h14.73M-12.73 52.68h35.78M23.05 52.68h22.86M106.56 52.68h37.38M143.94 52.68h16.59M160.53 52.68h31.43M-8.79 55.58h25.83M80.81 55.58h18.17M98.98 55.58h20.68M119.67 55.58h23.52M143.19 55.58h35.11M178.29 55.58h30.88M-13.53 58.48h19.43M5.9 58.48h25.97M61.33 58.48h21.77M57.97 60.95h26.27M182.29 60.95h34.31M30.19 64.28h36.69M82.18 64.28h30.75M138 64.28h24.98M162.98 64.28h23.4M186.38 64.28h12.95M-8.49 67.18h30.24M21.74 67.18h36.52M129.66 67.18h10.37M140.03 67.18h17.48M157.51 67.18h35.95M15.61 69.65h29.44M45.05 69.65h39.2M84.26 69.65h26.63M110.88 69.65h26.35M-4.02 72.11h13.25M9.23 72.11h17.59M65.83 72.11h25.1" stroke-opacity="0.15"/><path d="M0.78 19.72v18.13M0.78 37.85v16.86M7.23 29.36v20.66M7.23 76.43v40.94M10.23 -12.87v36.92M10.23 24.05v26.18M10.23 50.22v26.18M13.23 58.46v18.69M13.23 77.15v20.36M16.68 30.54v30.15M22.68 -12.98v35.04M22.68 42.43v36.3M22.68 78.73v37.08M25.68 20.47v35.23M28.23 -13.81v31.51M28.23 17.7v36.01M33.78 -13.27v16.17M33.78 59.02v42.97M36.33 -8.06v23.05M36.33 14.99v44M39.33 51.65v19.1M42.78 -10.87v18.73M42.78 7.85v13.26M48.78 -8.33v16.23M51.33 -11.23v41.47M51.33 66.57v16.94M54.33 12.01v13.55M54.33 25.56v39.32M57.33 60.37v16.53M57.33 76.89v38.81M60.33 -9.49v30M60.33 62.32v29.3M62.88 -18v38.7M62.88 53.23v35.63M65.43 13.09v27.55M65.43 40.64v37.9M71.43 16.6v29.71M71.43 46.31v24.39M76.98 21.27v34.48M80.43 -12.28v36.78M80.43 37.21v22.44M83.43 -14.53v32.07M83.43 17.54v44.75M95.88 -11.8v16.11M98.43 -17.86v26.77M98.43 39.53v14.64M98.43 54.17v16.81M103.98 -13.55v32.72M112.98 -11.05v21.82M112.98 49.37v25.78M112.98 75.15v36.53M115.53 51.09v19.25M115.53 70.34v15.41M118.08 -8.46v41.54M118.08 33.08v16.52M121.08 6.45v39.01M121.08 71.37v12.04M124.08 -11.48v26.14M124.08 14.66v23.78M124.08 38.44v23.52M124.08 78.84v17.59M126.63 15.79v28.23M129.63 -16v25.14M129.63 9.14v42.09M129.63 51.23v14.65M133.08 18.73v40.13M136.53 71.5v21.01M139.53 -9.91v41.97M139.53 32.06v32.32M142.53 16.72v36.26M142.53 78.94v35.07M145.98 -11.93v42.23M145.98 30.3v40.56M145.98 70.86v28.25M152.43 10.65v39.36M152.43 50.01v36.12M155.43 28.72v12.57M158.43 65.41v31.64M161.43 32.27v24.6M161.43 56.87v44.97M164.43 41.11v19.93M167.88 -14.98v28.63M167.88 13.65v38.81M170.43 -9.07v26.6M170.43 72.39v27.31M176.43 37.08v41M178.98 34.86v36.63M157.91 1.35h14.66M172.57 1.35h12.23M65.09 4.25h11.42M100.71 4.25h29.24M179.68 4.25h29.47M-13.97 6.72h32.28M129.43 6.72h36M-8.81 9.62h33.81M24.99 9.62h21.98M65.57 9.62h37.48M120.81 9.62h26.51M44.45 12.52h16.55M100.09 12.52h17.44M12.74 14.98h18.89M90.96 14.98h28.51M119.48 14.98h20.67M140.15 14.98h22.45M16.07 17.88h28.95M73.22 17.88h30.04M103.27 17.88h22.3M10.7 20.78h15.44M18.38 33.25h34.55M87.58 33.25h20.35M107.93 33.25h16.11M124.04 33.25h36.67M57.67 36.15h11.59M69.26 36.15h30.05M111.53 36.15h13.84M-6.38 39.05h34.23M96.54 39.05h18.23M154.61 39.05h37.82M32.01 41.52h29.03M94.41 43.98h24.19M87.59 46.88h14.49M156.34 46.88h13.07M169.41 46.88h27.61M9.8 49.78h27.44M79.88 49.78h39.75M45.91 52.68h34.93M41.76 55.58h39.05M114.25 58.48h26.98M32.65 60.95h12.72M119.9 60.95h20.25M140.15 60.95h11.22M-7.26 64.28h37.45M66.88 64.28h15.3M112.93 64.28h25.06M58.26 67.18h34.17M176.04 69.65h30.96M51.35 72.11h14.48M151.19 72.11h23.53M174.71 72.11h37.84" stroke-opacity="0.35"/><path d="M0.78 -14.85v34.57M4.23 20.12v16.17M10.23 76.41v15.87M13.23 -14.91v30.29M13.23 15.38v16.45M16.68 -10.8v41.35M16.68 60.7v41.26M19.68 24.76v24.86M22.68 22.06v20.37M31.23 -9.67v26.16M31.23 16.49v38.63M31.23 55.12v44.05M33.78 28.37v30.65M36.33 58.99v27.65M39.33 -15.99v24.41M39.33 25.61v26.04M39.33 70.75v19.78M42.78 21.11v14.86M45.78 77.43v22.16M54.33 -8.7v20.71M54.33 64.88v37.94M57.33 -13.73v32.48M62.88 20.7v32.53M68.43 76.56v39.59M71.43 70.71v18.29M73.98 42.55v30.85M73.98 73.4v13.83M76.98 -8.27v29.54M76.98 55.75v32.44M86.43 -17.14v42.75M86.43 25.61v39.43M86.43 65.04v35.79M92.88 -16.76v24.58M92.88 7.81v28.48M95.88 4.32v22.8M98.43 8.91v30.62M101.43 50.97v36.74M106.98 -13.65v41.16M106.98 27.5v35.39M106.98 62.89v38.31M109.98 14.39v39.07M112.98 10.77v38.6M115.53 30.69v20.4M118.08 49.6v27.78M118.08 77.38v16.12M121.08 -8.88v15.34M126.63 -15.99v31.78M126.63 44.02v38.98M139.53 64.39v18.8M142.53 -8.57v25.29M148.98 -8.81v29.65M148.98 20.83v12.44M155.43 -9.48v38.19M155.43 41.28v21.73M155.43 63.01v43.72M161.43 -9.92v42.19M164.43 -9.43v32.75M164.43 61.05v37.98M167.88 52.46v25.65M167.88 78.11v21.46M170.43 17.53v34.14M170.43 51.67v20.72M173.43 -14.06v42.08M173.43 28.02v41.64M176.43 -10.41v26.55M178.98 -17.37v14.8M178.98 71.49v30.86M57.69 1.35h36.63M94.32 1.35h35.73M66.71 6.72h32.53M161.46 9.62h21.81M56.01 14.98h14.36M70.37 14.98h20.59M26.14 20.78h31.68M57.82 20.78h33.12M135.03 20.78h32.65M113.94 24.12h39.3M177.3 26.58h18.82M86.75 29.92h24.91M151.65 29.92h31.95M-6.33 33.25h24.7M52.93 33.25h34.65M160.7 33.25h22.21M120.87 41.52h11.17M41.77 43.98h24.16M47.84 46.88h39.74M62.34 49.78h17.54M80.85 52.68h25.72M17.04 55.58h24.72M31.87 58.48h29.46M83.1 58.48h31.14M-11.24 60.95h30.97M19.73 60.95h12.91M92.42 67.18h37.24M-15.47 72.11h11.46M130.81 72.11h20.38" stroke-opacity="0.6"/><path d="M4.23 36.28v44.93M7.23 -8.85v38.21M19.68 -8.73v33.49M25.68 -13.2v33.68M25.68 55.7v28.38M33.78 2.91v25.47M45.78 6.94v29.43M48.78 7.9v26.58M51.33 46.38v20.19M60.33 20.51v24.3M65.43 -9.09v22.18M68.43 -10.76v19.47M68.43 8.71v43.48M71.43 -10.61v27.22M73.98 27.89v14.66M80.43 59.65v30.85M92.88 36.29v25.66M92.88 61.95v26.67M95.88 27.12v37.27M95.88 64.39v21.9M98.43 70.98v21.9M101.43 18.22v32.76M115.53 -9.61v40.3M129.63 65.88v17.56M176.43 78.08v14.33M178.98 -2.57v37.43M130.05 1.35h27.86M18.3 6.72h22.89M41.2 6.72h14.01M103.05 9.62h17.75M90.94 20.78h11.32M102.26 20.78h32.77M167.67 20.78h36.91M75.51 24.12h38.43M5.01 26.58h32.79M127.6 29.92h24.05M132.05 41.52h16.08M148.13 41.52h28.56M165.69 49.78h28.51M141.23 58.48h36.75M177.98 58.48h11.35M45.37 60.95h12.6M84.24 60.95h35.66M151.37 60.95h30.92M-15.45 69.65h31.06M137.24 69.65h38.8M26.82 72.11h24.53M90.93 72.11h39.88" stroke-opacity="0.9"/></g></g></g></g>
<g transform="translate(1353.8 400.2) rotate(-0.25 104.75 36.8)"><g><g clip-path="url(#fc4)"><rect x="-5" y="-8" width="219.5" height="89.6" fill="#dca620"/><g filter="url(#b1.2)"><ellipse cx="23.64" cy="3.2" rx="18.26" ry="8.53" fill="#b4d21e"/><ellipse cx="25.78" cy="70.4" rx="16.12" ry="9.6" fill="#b4d21e"/><ellipse cx="191.24" cy="4.27" rx="16.12" ry="9.6" fill="#b4d21e"/><ellipse cx="189.09" cy="68.27" rx="13.97" ry="9.6" fill="#b4d21e"/><ellipse cx="0" cy="36.27" rx="9.67" ry="20.27" fill="#6ad428"/><ellipse cx="209.5" cy="35.2" rx="7.52" ry="18.13" fill="#6ad428"/><ellipse cx="1.07" cy="36.27" rx="4.3" ry="12.8" fill="#38d030"/><ellipse cx="208.43" cy="35.2" rx="3.22" ry="10.67" fill="#38d030"/><ellipse cx="39.11" cy="36.05" rx="13.54" ry="9.92" fill="#e04a0e"/><path d="M130 -2.13L151.48 -2.13L161.15 10.67L171.9 22.4L184.79 27.73L190.16 34.13L190.16 42.67L183.72 49.07L169.75 52.27L160.08 61.87L152.02 75.73L130 75.73L140.74 57.6L149.34 36.8L137.52 11.73Z" fill="#e04a0e"/><ellipse cx="5.37" cy="5.33" rx="5.37" ry="6.93" fill="#e61a0c"/><ellipse cx="5.91" cy="66.13" rx="5.37" ry="8" fill="#e61a0c"/><ellipse cx="205.2" cy="6.4" rx="4.3" ry="8" fill="#e61a0c"/><ellipse cx="205.2" cy="64" rx="4.3" ry="8.53" fill="#e61a0c"/></g><g stroke="#260a00" stroke-width="0.85" fill="none" opacity="0.78"><path d="M6.04 18.4v32.32M9.04 -8.23v36.45M9.04 28.22v38.68M12.04 -12.85v18.17M15.49 26.9v23.26M18.49 -17.95v24.76M21.94 21.87v32.55M25.39 -17.3v20.11M25.39 2.81v42.46M25.39 45.28v26.15M31.39 29.25v36.47M34.39 52.58v16.82M34.39 69.4v36.04M40.39 62.12v24.62M45.94 -9.34v15.13M45.94 35.28v33.63M48.94 -16.88v32.5M52.39 25.73v38.09M52.39 63.82v27.31M67.39 16.22v14.32M67.39 30.54v33.83M78.94 9.05v35.64M81.94 -17.83v44.7M81.94 77.44v18.23M90.49 -8.19v28.54M90.49 52.41v19.93M90.49 72.34v29.97M93.49 -9.9v24.23M99.04 39.3v33.72M105.04 -14.68v18.15M105.04 42.8v23.63M108.04 70.42v29.31M111.04 50.52v28.3M117.04 71.87v36.7M123.49 44.72v16.32M126.04 61.82v21.77M138.04 25.95v27.93M144.49 -16.48v41.39M147.49 -14.46v28.96M150.04 -9.93v16.65M150.04 57.77v33.61M159.04 57.85v17.1M162.04 -10.15v13.59M164.59 39.86v31.78M174.04 -15.2v29.51M174.04 71.21v38.44M177.04 73.96v41.92M180.04 21.57v35.95M183.04 32.28v18.61M186.04 69.28v41.67M189.04 10.04v39.93M191.59 26.14v44.22M194.59 39.13v16M207.04 76.67v37.85M210.04 29.61v28.65M15.78 2.46h19.25M35.03 2.46h16.5M117.65 2.46h17.32M134.98 2.46h19.13M202.85 2.46h37.55M122.78 5.36h31.68M154.46 5.36h19.29M214.69 5.36h38.96M173.15 8.69h33.07M206.22 8.69h32.34M-6.51 12.03h12.37M5.86 12.03h17.21M41.8 12.03h29.74M189.08 12.03h37.84M63.58 14.93h17.46M117 14.93h28.86M18.55 17.83h35.42M53.97 17.83h28.53M98.27 17.83h39.05M191.9 17.83h29.95M-11.87 20.73h36.81M24.95 20.73h20.87M45.82 20.73h20.23M77.76 20.73h38.7M116.46 20.73h15.57M132.04 20.73h33.89M165.93 20.73h33.13M56.28 24.06h28.03M106.22 24.06h23.91M130.13 24.06h14.97M172.69 24.06h23.44M196.12 24.06h38.88M-12.44 26.96h34.87M22.43 26.96h39.41M100.82 26.96h20.11M120.94 26.96h31.91M-9.58 29.86h24.96M15.38 29.86h13.04M90.95 29.86h34.04M124.99 29.86h29.33M188.14 29.86h17.96M89.61 32.76h34.21M123.82 32.76h35.23M204.56 32.76h39.44M-15.07 35.23h38.41M57.04 35.23h19.88M108.9 35.23h37.89M96.27 38.13h16.08M134.27 38.13h15.93M-12.88 40.59h35.01M22.13 40.59h24.55M46.68 40.59h20.36M193.27 40.59h27.42M-8.62 43.06h19.52M108.72 43.06h16.75M125.48 43.06h12.49M137.96 43.06h29.15M167.11 43.06h25.73M35.46 45.52h16.51M120.42 45.52h24.4M144.82 45.52h37.53M182.35 45.52h17.82M18.38 48.42h16.07M34.44 48.42h24.49M91.74 48.42h18.4M206.36 48.42h17.37M10.44 51.76h19.44M178.13 51.76h25.52M7.7 55.09h18.53M26.23 55.09h17.41M43.64 55.09h30.21M93.88 55.09h20.33M114.21 55.09h31.33M-10.9 58.43h28.29M99.67 58.43h39.84M139.51 58.43h39.42M20.57 61.33h28.01M48.58 61.33h29.71M78.29 61.33h19.09M97.38 61.33h32.9M130.28 61.33h31.58M178.06 61.33h37.74M-12.81 64.66h14.76M58.74 64.66h22.2M80.94 64.66h24.48M105.42 64.66h27.71M133.13 64.66h29.51M174.4 64.66h32M-6.96 68h15.31M48.03 68h23.56M71.59 68h29.27M100.87 68h39.39M177.22 68h23.77M19.08 70.9h28M47.08 70.9h16.77M63.86 70.9h22.74M86.59 70.9h36.69M123.29 70.9h39.69M162.98 70.9h38.96M-14.11 73.8h20.43M6.32 73.8h13.09M49.27 73.8h28.01M77.28 73.8h13.58M90.86 73.8h26.91M117.77 73.8h39.3M157.07 73.8h23.04M180.11 73.8h21.19M201.3 73.8h35.62" stroke-opacity="0.15"/><path d="M0.49 -14.9v32.95M0.49 37.19v38.66M0.49 75.84v28.67M3.04 -8.14v42.78M6.04 50.73v22.85M12.04 5.32v40.57M12.04 45.9v37.75M15.49 -17.89v14.34M15.49 -3.55v30.45M15.49 50.16v29.68M15.49 79.84v43.5M18.49 21.89v44.76M18.49 66.65v28.22M21.94 -10.22v32.09M21.94 54.42v17.61M21.94 72.03v42.59M25.39 71.42v13.21M28.39 64.06v28.2M31.39 -17.36v20.11M31.39 2.75v26.49M34.39 -8.35v20.2M37.39 11.76v12.93M40.39 -12.84v41.79M42.94 -10.64v22.76M42.94 12.12v43.54M45.94 5.79v12.84M45.94 68.9v29.78M48.94 15.62v40.3M55.84 -9.75v35.48M55.84 25.73v34.99M55.84 60.72v13.38M58.84 -16.18v38.5M58.84 22.33v30.91M58.84 67.22v22.69M61.84 -14.99v29.35M61.84 28.46v44.24M70.39 -15.24v27.05M70.39 11.81v24.72M70.39 69.38v14.82M73.39 -11.73v31.95M76.39 -10.45v42.25M78.94 44.69v17.79M78.94 62.48v32.46M84.49 44.83v21.15M84.49 65.98v43.04M87.49 70.66v19.1M93.49 14.33v17.48M93.49 31.81v42.1M93.49 73.91v39.75M96.49 -12.03v30.21M99.04 -14.59v14.41M99.04 73.02v28.41M102.49 13.34v23.15M102.49 36.5v23.65M105.04 3.47v39.33M105.04 66.43v31.31M108.04 5.85v29.77M111.04 -10.14v13.34M114.04 4.38v41.79M117.04 41.32v17.72M117.04 59.04v12.83M120.49 -13.01v25.61M120.49 12.61v28.98M123.49 -12.06v17.88M123.49 5.83v38.89M126.04 18.58v19.02M129.04 -14.14v27.33M129.04 13.19v18.29M129.04 49.57v19.33M135.04 3.66v40.6M135.04 44.26v39.47M138.04 78.11v28.49M141.04 13.16v14.33M141.04 42.94v36.23M147.49 14.5v37.45M147.49 65.01v42.41M150.04 6.72v34.98M153.04 -13.95v26.64M153.04 12.7v43.75M156.04 -9.43v25.26M156.04 49.22v31.35M159.04 21.13v36.72M162.04 20.44v39.96M162.04 60.4v15.69M162.04 76.09v15.82M164.59 -10.03v35.09M164.59 25.06v14.8M168.04 -14.98v38.81M174.04 37.56v33.65M177.04 30.77v22.29M183.04 -9.87v42.14M186.04 -16.5v43.81M191.59 3.33v22.81M194.59 1.83v37.3M194.59 55.13v18.94M198.04 31.95v37.41M200.59 -9.66v15.66M200.59 6v14.46M207.04 37.66v39.01M210.04 58.26v12.96M210.04 71.22v34.54M-12.22 2.46h15.07M85.27 2.46h32.38M57.02 5.36h12.54M94.16 5.36h15.01M173.74 5.36h29.06M29.44 8.69h33.64M63.07 8.69h17.96M143.53 8.69h29.61M71.54 12.03h33.14M104.68 12.03h19.46M124.15 12.03h32.36M156.51 12.03h32.58M10.07 14.93h12.84M22.92 14.93h17.96M40.88 14.93h22.7M81.04 14.93h35.96M164.66 14.93h16.1M180.75 14.93h30.9M82.5 17.83h15.77M137.32 17.83h36.75M174.08 17.83h17.82M66.05 20.73h11.71M199.06 20.73h27.85M145.11 24.06h27.58M198.82 26.96h37.42M154.32 29.86h33.82M-8.33 32.76h38.18M159.05 32.76h34.73M193.78 32.76h10.78M94.71 35.23h14.19M146.79 35.23h28.86M175.65 35.23h38.99M85.72 38.13h10.56M112.35 38.13h21.92M67.04 40.59h24.33M91.37 40.59h10.76M115.96 40.59h26.55M142.52 40.59h19.45M22.16 43.06h36.87M59.03 43.06h34.84M93.87 43.06h14.85M18.15 45.52h17.31M51.98 45.52h24.31M105.49 45.52h14.93M200.17 45.52h29.31M58.93 48.42h14.33M73.26 48.42h18.48M-11.78 51.76h22.22M29.88 51.76h10.27M67.38 51.76h14.7M82.08 51.76h23.6M105.68 51.76h34.94M140.62 51.76h23.07M73.85 55.09h20.03M145.55 55.09h30.85M176.4 55.09h34.37M63.9 58.43h35.78M178.93 58.43h21.35M200.28 58.43h34.55M161.85 61.33h16.21M1.95 64.66h23.3M25.25 64.66h33.49M162.65 64.66h11.75M8.35 68h21.89M30.24 68h17.79M140.25 68h36.97M201.94 70.9h36.84M19.41 73.8h15.98" stroke-opacity="0.35"/><path d="M0.49 18.06v19.13M3.04 34.64v16.78M3.04 51.42v42.41M9.04 66.91v17.32M18.49 6.81v15.08M31.39 65.71v21.5M34.39 11.86v40.72M37.39 -17.59v29.35M37.39 24.69v39.66M37.39 64.35v41.09M40.39 28.94v16.58M40.39 45.52v16.6M42.94 55.66v34.54M48.94 55.92v36.56M52.39 -15.11v40.84M58.84 53.23v13.98M61.84 14.36v14.1M64.39 -16.68v33.51M67.39 64.37v21.09M73.39 20.22v26.84M73.39 47.06v32.44M73.39 79.51v31.98M76.39 31.8v32.29M81.94 26.87v26.3M81.94 53.17v24.28M84.49 -11.22v20.39M84.49 9.17v17.06M84.49 26.23v18.6M87.49 -12.61v33.97M87.49 21.36v34.03M90.49 20.35v32.06M96.49 18.18v38.48M102.49 -14.2v27.55M108.04 35.63v34.8M111.04 3.2v29.57M111.04 32.77v17.75M111.04 78.81v40.08M114.04 -14.79v19.17M117.04 -10.1v27.31M120.49 41.59v26.85M123.49 61.05v25.96M126.04 -17.84v36.42M129.04 31.49v18.08M132.04 -8.36v39.16M132.04 30.8v38.49M135.04 -9.42v13.08M138.04 -10.27v36.23M138.04 53.89v24.22M141.04 -13.63v26.78M141.04 27.49v15.45M144.49 24.91v22.16M144.49 47.08v16.82M144.49 63.9v20.74M153.04 56.45v33M156.04 15.83v33.38M156.04 80.56v19.67M159.04 74.95v20.95M162.04 3.43v17.01M164.59 71.64v18.72M168.04 23.83v43.67M171.04 20.1v37.45M174.04 14.31v23.25M177.04 -13.85v28.06M177.04 14.21v16.55M177.04 53.06v20.9M180.04 57.52v32.66M183.04 69.95v23.12M186.04 27.31v23.7M186.04 51.01v18.26M189.04 49.97v34.41M191.59 70.36v25.05M194.59 74.07v18.26M198.04 69.36v13.6M200.59 20.46v17.83M200.59 71.83v21.61M204.04 -9.16v23.51M204.04 53.91v20.49M204.04 74.39v22.32M207.04 14.03v23.63M210.04 -8.43v38.04M51.53 2.46h33.75M109.16 5.36h13.62M-10.07 8.69h39.51M23.07 12.03h18.74M-6.84 24.06h38.7M31.85 24.06h24.43M84.31 24.06h21.91M61.84 26.96h38.99M187.2 26.96h11.61M28.42 29.86h29.68M58.1 29.86h32.85M206.1 29.86h18.15M29.85 32.76h23.04M52.89 32.76h36.71M76.92 35.23h17.79M214.64 35.23h24.73M53.13 38.13h15.73M68.86 38.13h16.85M150.2 38.13h22.05M207.04 38.13h36.32M-10.86 45.52h29.01M-10.78 48.42h29.16M110.14 48.42h21.12M131.26 48.42h28M159.26 48.42h36.11M195.37 48.42h10.99M40.15 51.76h27.23M163.69 51.76h14.44M210.77 55.09h39.25M17.38 58.43h12.29M29.67 58.43h34.22M-9.74 61.33h30.31M206.4 64.66h15.91M200.99 68h29.41" stroke-opacity="0.6"/><path d="M6.04 -17.98v36.38M6.04 73.58v15.82M28.39 -12.07v44.64M28.39 32.57v31.49M45.94 18.63v16.65M55.84 74.1v22.21M61.84 72.7v22.5M64.39 16.83v38.65M64.39 55.48v28.67M67.39 -12.71v28.93M70.39 36.53v32.85M76.39 64.08v43.8M78.94 -9.62v18.67M87.49 55.4v15.27M96.49 56.66v42.53M99.04 -0.18v39.48M102.49 60.15v32.69M108.04 -9.58v15.44M114.04 46.17v41.98M117.04 17.21v24.11M120.49 68.44v43.52M126.04 37.6v24.22M129.04 68.91v13.34M132.04 69.29v36.12M141.04 79.17v16.12M147.49 51.95v13.06M150.04 41.7v16.07M159.04 -16.44v37.56M168.04 67.49v34.67M171.04 -8.34v28.45M171.04 57.56v18.01M171.04 75.57v14.63M180.04 -13.13v15.51M180.04 2.38v19.19M183.04 50.88v19.07M189.04 -12.8v22.84M191.59 -16.79v20.12M194.59 -17.16v18.99M198.04 -10.12v17.5M198.04 7.39v24.57M200.59 38.29v33.54M204.04 14.36v39.55M207.04 -9.35v23.39M2.85 2.46h12.93M154.1 2.46h36.23M190.34 2.46h12.51M-7.87 5.36h28.48M20.61 5.36h36.41M69.56 5.36h24.6M202.81 5.36h11.88M81.03 8.69h29.18M110.21 8.69h19.05M129.27 8.69h14.27M-15.77 14.93h25.84M145.86 14.93h18.79M211.65 14.93h26.63M-12.4 17.83h30.96M152.85 26.96h34.36M23.33 35.23h33.71M-6.87 38.13h28.54M21.67 38.13h31.47M172.26 38.13h34.78M102.13 40.59h13.84M161.97 40.59h31.3M10.9 43.06h11.26M192.84 43.06h24.26M76.29 45.52h29.2M203.65 51.76h24.44M-10.26 55.09h17.96M-9.84 70.9h28.92M35.39 73.8h13.88" stroke-opacity="0.9"/></g></g></g></g>
<g transform="translate(1533.2 268.6)"><g><g clip-path="url(#fc5)"><rect x="-5" y="-8" width="211.7" height="89.2" fill="#d49e1c"/><g filter="url(#b1.2)"><ellipse cx="0" cy="36" rx="7" ry="18" fill="#b4d21e"/><ellipse cx="201.7" cy="36" rx="7" ry="18" fill="#b4d21e"/><ellipse cx="18" cy="1" rx="10" ry="3.5" fill="#b4d21e" opacity="0.8"/><ellipse cx="20" cy="73.2" rx="12" ry="3.5" fill="#b4d21e" opacity="0.8"/><ellipse cx="183.7" cy="1" rx="10" ry="3" fill="#b4d21e" opacity="0.8"/><ellipse cx="179.7" cy="73.2" rx="12" ry="3" fill="#b4d21e" opacity="0.8"/><ellipse cx="37.8" cy="36" rx="13.2" ry="9" fill="#e04a0e"/><ellipse cx="164.4" cy="35.4" rx="13.8" ry="9" fill="#e04a0e"/><ellipse cx="6.6" cy="6.5" rx="4" ry="7.5" fill="#f02010"/><ellipse cx="7.2" cy="64" rx="4" ry="8" fill="#f02010"/><ellipse cx="195.6" cy="6.5" rx="4" ry="8" fill="#f02010"/><ellipse cx="195.6" cy="62.4" rx="4" ry="8" fill="#f02010"/></g><g stroke="#260a00" stroke-width="0.85" fill="none" opacity="0.8"><path d="M2.87 3.38v18.08M5.42 55.26v35.37M7.97 -13.9v22.25M14.42 -16.25v34.03M19.97 -8.91v26.64M19.97 17.74v37.78M25.97 0.78v16.03M25.97 16.8v31.37M31.52 -9.87v23.56M31.52 60.6v17.85M34.52 -13.34v28.06M34.52 58.65v25.29M37.97 -3.08v40.02M40.97 59.42v22.52M46.97 43.74v32.08M50.42 10.43v28.92M50.42 39.36v21.17M56.87 -9.95v17.34M60.32 -11.21v37.29M60.32 26.08v28.72M60.32 54.8v32.87M66.32 44.02v19.87M68.87 54.84v25.01M74.87 13.11v20.05M77.87 14.09v32.81M80.87 -11.61v21.44M80.87 9.83v14.71M92.42 21.74v43.86M94.97 25.19v19.69M94.97 69.17v20.61M97.97 57.81v15.99M103.52 -14.14v23.99M106.07 41.58v30.49M109.52 18.43v38.88M112.52 47.55v38.18M118.52 22.84v24.12M124.07 27.93v12.83M124.07 63.01v39.37M127.07 22.83v43.84M133.52 50.24v32.95M136.52 33.16v19.51M142.07 -11.21v13.48M145.52 -8.64v34.4M148.97 -16.34v15.24M148.97 52.23v37.34M173.42 14.45v23.78M176.87 74.16v18.25M184.97 55.96v33.97M190.97 67.6v19.64M193.52 31.42v15.59M196.52 76.07v25.2M17.3 1.87h39.29M56.59 1.87h24.39M80.98 1.87h39.59M143.35 1.87h22.88M166.23 1.87h25.07M-11.37 4.77h17.49M32.03 4.77h16.95M80.61 4.77h30.77M162.16 4.77h37.95M-6.89 7.67h30.63M23.74 7.67h23.05M121.33 7.67h35.73M-7.91 10.57h34.9M42.02 10.57h14.85M94.43 10.57h21.47M138.91 10.57h20.99M171.19 10.57h31.37M135.65 13.47h21.64M207.09 13.47h24.93M19.55 16.37h17.9M37.44 16.37h20.9M160.3 16.37h33.24M193.54 16.37h10.03M159.5 18.83h19.69M205.03 18.83h10.59M6.52 21.73h37.13M108.22 21.73h15.98M124.21 21.73h24.58M148.78 21.73h17.3M166.08 21.73h11.55M99.42 24.63h16.59M116.01 24.63h10.68M126.69 24.63h34.18M160.88 24.63h15.7M176.57 24.63h18.93M195.5 24.63h11.63M-6.09 27.53h17.71M11.61 27.53h32.56M44.18 27.53h12.84M57.02 27.53h30.3M110.3 27.53h18.2M128.5 27.53h14.13M173.63 27.53h36.68M-9.29 30.43h28.55M188.23 30.43h32.91M71.69 33.33h33.16M104.85 33.33h12.39M117.24 33.33h18.7M135.93 33.33h39.97M175.91 33.33h23.15M199.06 33.33h23.18M0.78 35.8h26.63M27.41 35.8h22.62M88.66 35.8h21.94M149.92 35.8h11.69M161.61 35.8h33.05M194.66 35.8h26.66M64.5 38.26h20.82M104.97 38.26h22.92M127.9 38.26h12.33M169.88 38.26h21.3M191.18 38.26h29.45M-14.23 41.6h22.89M81.27 41.6h17.06M163.63 41.6h31.61M168.95 44.5h21.48M-10.45 47.4h31.57M88.1 47.4h30.14M118.24 47.4h19.88M3.44 49.86h33.08M36.52 49.86h29.03M80.55 49.86h10.09M90.64 49.86h30.49M121.13 49.86h33.77M154.9 49.86h24.97M-15.56 52.76h27.86M12.29 52.76h20.68M32.97 52.76h13.76M46.73 52.76h18.76M90.35 52.76h23.88M114.22 52.76h21.45M135.67 52.76h19.81M-14.56 55.66h20.16M5.6 55.66h31.12M95.16 55.66h23.39M118.55 55.66h31.41M179.03 55.66h24.23M157.71 58.56h13.3M171 58.56h30.69M201.69 58.56h30.56M-7.07 61.46h10.5M3.43 61.46h15.82M105.06 61.46h22.92M206.96 61.46h20.76M12.26 64.36h23.79M102.46 64.36h38.45M160.45 64.36h20.38M180.83 64.36h11.19M192.02 64.36h14.01M206.02 64.36h31.02M121.49 67.26h10.86M24.45 70.16h30.28M103.84 70.16h19.79M162.99 70.16h37.96M200.95 70.16h36.92M-11.95 73.06h25.87M13.91 73.06h21.58M35.5 73.06h37.62M135.23 73.06h38.39M173.61 73.06h10.48M184.1 73.06h39.98" stroke-opacity="0.15"/><path d="M2.87 21.46v33.5M2.87 54.95v41.36M11.42 -8.61v22.77M11.42 14.16v18.09M11.42 73.97v43.55M14.42 17.78v13.62M14.42 44.46v28.71M17.42 35.07v29.92M17.42 65v34.22M19.97 55.52v39.76M22.97 3.18v17.66M22.97 20.84v23.52M22.97 44.36v23.79M22.97 68.15v13.22M25.97 -14.56v15.33M25.97 64.14v16.47M28.97 -15.27v33.23M37.97 -16.34v13.26M37.97 36.94v18.71M37.97 80.26v35.7M40.97 -1.18v42.72M43.97 -14.04v13.39M43.97 69v19.7M50.42 60.52v39.68M53.42 -16.17v44.13M53.42 53.35v37.14M56.87 7.39v24.53M56.87 61v17.04M63.77 -8.67v17.89M63.77 77.78v36.41M66.32 21.41v22.6M66.32 63.89v42.55M68.87 37.56v17.27M68.87 79.84v25.32M71.87 -16.78v43.65M71.87 40.21v28.97M71.87 69.17v16.23M74.87 -13.56v26.68M74.87 33.17v30.46M74.87 63.62v17.49M74.87 81.12v34.27M77.87 -17.15v31.24M80.87 51.49v19.17M83.42 50v36.36M86.42 -15.76v34.03M86.42 18.27v38.37M86.42 56.64v37.66M89.42 50.14v19.92M92.42 -1.75v23.49M92.42 65.6v30.16M97.97 -17.96v23.07M97.97 22.51v35.3M100.97 -14.86v29.75M100.97 14.89v37.88M106.07 -10.31v38.5M106.07 28.19v13.39M109.52 -8.97v12.99M109.52 4.03v14.41M109.52 57.31v33.73M112.52 -14.19v40.21M115.52 -17.99v15.62M115.52 -2.38v18.67M115.52 16.3v18M115.52 48.42v18.37M115.52 66.79v33.33M118.52 46.96v27.47M118.52 74.44v18.23M124.07 -13.25v41.18M130.52 13.36v23.38M130.52 36.75v16.04M133.52 19.91v30.33M136.52 80.72v15.68M142.07 2.27v13.82M142.07 16.09v19.8M142.07 35.89v28.62M145.52 25.75v43.19M145.52 68.94v24.75M148.97 27.34v24.88M154.97 -11.38v41.15M154.97 29.77v39.21M154.97 68.98v23.42M157.97 24.43v36.55M163.97 -9.13v21.84M163.97 29.38v32.11M163.97 61.49v22.05M167.42 -17.58v25.4M167.42 7.82v27.71M167.42 35.53v16.1M170.42 33.53v21.23M170.42 54.77v40.66M173.42 38.24v20.68M176.87 44.9v15.99M176.87 60.9v13.26M179.42 27.84v18.48M182.42 -10.82v20.9M182.42 10.07v13.62M182.42 23.7v24.61M187.97 -11.49v32.96M190.97 20.26v15.64M190.97 35.91v31.7M193.52 -11.91v43.33M193.52 47.02v36.87M196.52 -13.62v39.72M196.52 43.25v32.82M199.97 79.98v22.01M120.56 1.87h22.79M191.3 1.87h24.7M6.12 4.77h25.92M111.38 4.77h16.99M128.38 4.77h33.78M200.11 4.77h27.79M46.79 7.67h39.56M157.06 7.67h18.7M26.99 10.57h15.02M56.86 10.57h25.12M115.9 10.57h23.01M-13.52 13.47h36.9M23.38 13.47h28.95M121.91 13.47h13.74M170.28 13.47h36.81M58.34 16.37h13.52M71.87 16.37h17.34M-8.38 18.83h37.64M29.26 18.83h29.92M125.19 18.83h34.31M179.2 18.83h13.04M192.24 18.83h12.79M43.65 21.73h10.56M72.96 21.73h23.87M28.03 24.63h23.28M51.31 24.63h30.23M81.53 24.63h17.89M142.63 27.53h31.01M19.26 30.43h27.18M46.44 30.43h34.94M81.38 30.43h12.39M93.76 30.43h13.81M107.57 30.43h30.35M137.92 30.43h10.28M148.2 30.43h15.24M163.44 30.43h24.79M12.88 33.33h24.74M37.62 33.33h34.07M-10.23 35.8h11.01M50.03 35.8h11.42M110.6 35.8h39.32M-7.99 38.26h22.23M14.25 38.26h26.55M40.8 38.26h23.7M8.67 41.6h29.34M98.32 41.6h29.88M195.24 41.6h23.97M-9.14 44.5h11.81M2.67 44.5h15.79M35.35 44.5h10.91M46.26 44.5h36.36M82.62 44.5h14.37M96.99 44.5h34.78M190.43 44.5h30.73M138.12 47.4h18.76M156.88 47.4h20.88M-13.63 49.86h17.08M179.87 49.86h39.38M199.33 52.76h24.97M36.72 55.66h12.97M77.26 55.66h17.9M149.96 55.66h29.07M203.26 55.66h20.58M-13.49 58.56h28.75M45.69 58.56h35.63M81.33 58.56h31.41M112.74 58.56h13.68M140.01 58.56h17.7M19.25 61.46h24.56M159.28 61.46h15.08M195.97 61.46h10.98M36.05 64.36h28.55M140.91 64.36h19.54M-9.75 67.26h26.92M17.17 67.26h38.63M55.81 67.26h32.86M132.35 67.26h26.01M183.49 67.26h13.53M-6.5 70.16h30.96M54.74 70.16h38.75M93.49 70.16h10.35M109.79 73.06h25.44" stroke-opacity="0.35"/><path d="M7.97 8.36v40.04M7.97 48.4v42.95M14.42 73.17v25.51M17.42 -11.07v24.33M17.42 13.26v21.81M25.97 48.18v15.96M28.97 17.96v37.88M31.52 13.69v15.21M31.52 28.9v31.7M31.52 78.45v18.29M34.52 14.71v12.77M34.52 27.48v31.17M37.97 55.64v24.62M43.97 -0.64v12.98M43.97 12.34v12.13M43.97 24.48v44.52M46.97 9v34.74M50.42 -13.51v23.95M56.87 78.05v40.53M63.77 52.19v25.6M66.32 -17.01v38.43M77.87 46.9v34.64M80.87 24.54v26.96M80.87 70.66v32.98M83.42 -15.62v17.33M83.42 1.71v29.74M83.42 31.45v18.55M89.42 -10.25v29.49M89.42 19.24v30.9M89.42 70.06v23.7M92.42 -17.82v16.07M94.97 -9.27v34.45M94.97 44.88v24.29M97.97 5.12v17.4M97.97 73.81v35.58M100.97 52.77v39.96M103.52 64.95v43.43M112.52 26.02v21.53M118.52 -11.07v33.91M121.07 -16.11v37.54M130.52 -12.81v26.18M130.52 52.79v19.74M130.52 72.53v23.71M133.52 -14.15v34.07M136.52 52.67v28.05M139.07 -15.42v12.69M139.07 -2.73v32.33M139.07 29.61v25.61M139.07 55.22v37M142.07 64.51v16.19M142.07 80.7v34.33M151.97 -8.56v35.97M151.97 27.41v24.68M151.97 52.08v39.53M157.97 -12.13v36.55M157.97 60.98v44.97M160.97 -15.09v33.61M160.97 18.53v27.41M160.97 72.64v26.94M170.42 -15.51v35.86M170.42 20.35v13.18M173.42 58.92v12.87M173.42 71.79v25.86M176.87 -14.75v30.82M176.87 16.07v28.83M179.42 -16.65v44.49M179.42 46.32v29.98M179.42 76.29v19.58M182.42 48.31v32.61M184.97 -10.94v34.22M187.97 21.47v28.91M190.97 -8.34v28.6M199.97 -13.28v41.18M199.97 27.9v14.99M199.97 42.89v37.08M48.99 4.77h31.63M86.35 7.67h34.98M175.77 7.67h36.83M159.9 10.57h11.29M52.32 13.47h30.03M89.21 16.37h24.04M113.25 16.37h32.4M145.65 16.37h14.65M-7.48 21.73h14M54.21 21.73h18.75M96.82 21.73h11.4M177.63 21.73h13.91M207.13 24.63h33.78M-14.95 33.33h27.84M85.32 38.26h19.65M38.01 41.6h16.97M54.98 41.6h26.29M18.46 44.5h16.9M131.76 44.5h37.19M21.12 47.4h32.68M53.8 47.4h34.3M65.55 49.86h15.01M178.36 52.76h20.97M49.69 55.66h27.57M25.85 58.56h19.84M43.81 61.46h30.4M74.21 61.46h30.84M64.6 64.36h37.86M88.67 67.26h32.82M158.36 67.26h25.13M197.03 67.26h24.17M152.05 70.16h10.94" stroke-opacity="0.6"/><path d="M2.87 -9.4v12.78M5.42 -11.19v31.84M5.42 20.64v34.61M11.42 32.25v41.72M14.42 31.4v13.06M22.97 -12.01v15.19M25.97 80.61v34.57M28.97 55.83v32.08M40.97 -16.89v15.71M40.97 41.54v17.88M46.97 -11.55v20.55M46.97 75.81v39.92M53.42 27.96v25.39M56.87 31.92v29.08M63.77 9.22v42.97M68.87 -17.37v15.72M68.87 -1.65v39.21M71.87 26.87v13.34M103.52 9.84v29.48M103.52 39.33v25.62M106.07 72.07v41.88M115.52 34.3v14.12M121.07 21.44v23.97M121.07 45.4v38.78M124.07 40.76v22.25M127.07 -10.22v33.06M127.07 66.68v20.55M136.52 -10.53v43.69M148.97 -1.1v28.44M160.97 45.94v26.7M163.97 12.71v16.68M167.42 51.63v22.18M167.42 73.81v15.59M173.42 -10.15v24.6M182.42 80.91v20.22M184.97 23.28v32.68M187.97 50.38v16.14M187.97 66.52v29.53M196.52 26.09v17.15M-13.76 1.87h31.06M81.98 10.57h12.45M202.55 10.57h29.13M82.35 13.47h39.57M157.29 13.47h12.99M-7.67 16.37h27.22M203.57 16.37h33.17M59.18 18.83h37.54M96.72 18.83h28.47M191.54 21.73h19.35M-7.65 24.63h35.68M87.32 27.53h22.98M61.45 35.8h27.21M140.22 38.26h29.66M128.21 41.6h35.42M177.77 47.4h36.73M65.48 52.76h24.87M155.48 52.76h22.88M15.27 58.56h10.58M126.42 58.56h13.59M127.97 61.46h31.31M174.37 61.46h21.61M-6.01 64.36h18.26M123.63 70.16h28.42M73.12 73.06h36.67" stroke-opacity="0.9"/></g></g></g></g>
<g transform="translate(1681.2 395.6)"><g><g clip-path="url(#fc6)"><rect x="-5" y="-8" width="207.5" height="90.6" fill="#ea5206"/><g filter="url(#b1.2)"><ellipse cx="0" cy="36.79" rx="4.25" ry="20.44" fill="#e6b428"/><ellipse cx="197.5" cy="38.83" rx="3.72" ry="18.39" fill="#e6b428"/><ellipse cx="14.87" cy="4.09" rx="6.37" ry="4.09" fill="#e6b428" opacity="0.8"/><ellipse cx="14.87" cy="71.53" rx="7.43" ry="4.09" fill="#e6b428" opacity="0.8"/><ellipse cx="182.63" cy="71.53" rx="6.37" ry="4.09" fill="#e6b428" opacity="0.8"/><ellipse cx="182.63" cy="4.09" rx="5.31" ry="4.09" fill="#e6b428" opacity="0.7"/><ellipse cx="101.09" cy="36.58" rx="14.02" ry="28.1" fill="#dca42a"/><ellipse cx="7.01" cy="6.74" rx="4.25" ry="6.13" fill="#f01810"/><ellipse cx="7.01" cy="65.91" rx="4.25" ry="6.13" fill="#f01810"/><ellipse cx="191.55" cy="6.74" rx="4.25" ry="6.13" fill="#f01810"/><ellipse cx="191.55" cy="63.87" rx="4.25" ry="6.13" fill="#f01810"/></g><g filter="url(#b2.5)"><rect x="23.36" y="-8" width="31.85" height="90.6" fill="#7a2000" opacity="0.2"/><rect x="125.3" y="-8" width="23.36" height="90.6" fill="#ff6a08" opacity="0.25"/><rect x="159.27" y="-8" width="23.36" height="90.6" fill="#7a2000" opacity="0.18"/><rect x="65.83" y="-8" width="14.87" height="90.6" fill="#7a2000" opacity="0.12"/></g><g stroke="#2a0600" stroke-width="0.85" fill="none" opacity="0.8"><path d="M2.77 -17.49v41.45M2.77 55.5v29.49M5.77 1.79v41.75M17.32 65.89v20.53M22.87 0.62v24.98M22.87 25.6v19.45M22.87 78.26v26.69M27.97 50.28v15.3M33.97 9.61v32.12M33.97 41.73v21.4M39.52 38.12v38.19M48.07 26.48v42.7M54.07 53.66v32.93M56.62 -10.76v23.95M56.62 13.2v39.64M59.62 3.65v33.61M59.62 81.47v18.03M63.07 69.52v38.23M65.62 17.49v16.42M75.52 26.15v27.59M78.52 38.59v28.44M81.97 -9.82v26.53M81.97 54.22v27.06M87.52 29.05v16M87.52 45.06v27.62M97.42 -15.88v30.55M97.42 14.67v37.76M100.42 -2.04v14.62M103.87 19.33v32.96M112.87 -13.58v44.2M112.87 80.45v13.14M115.87 -16.04v38.26M118.87 -15.52v18.49M118.87 69.13v18.81M125.32 -17.84v37.35M128.32 19.25v15.18M128.32 34.43v40.52M128.32 74.95v24.3M130.87 49.37v23.15M133.42 21.96v36.18M142.42 19.17v34.28M145.42 55.87v36.98M150.97 56.33v19.06M156.97 -13.91v36.27M156.97 22.36v16.2M156.97 79.2v16.15M166.87 -11.96v33.53M169.87 -14.57v18.32M172.87 -10.56v29.24M172.87 50.89v38.07M178.42 7.33v14.83M181.87 80.84v16.39M187.87 -13.08v38.75M197.32 32.08v13.13M-14.98 1.68h14.78M54.08 1.68h24.4M113.17 1.68h36M169.41 1.68h26M-8.59 5.02h14.95M89.03 5.02h39.18M128.21 5.02h31.83M175.79 5.02h17M192.79 5.02h20.73M86.91 7.48h12.24M128.47 7.48h36.88M-14.74 10.38h15.83M1.09 10.38h30.12M31.21 10.38h36.12M80.07 10.38h38.88M118.96 10.38h38.92M157.87 10.38h12.15M170.03 10.38h21.47M11.46 12.85h38.26M49.71 12.85h19.19M88.36 12.85h34.61M122.96 12.85h31.56M181.69 12.85h28.09M-13.14 16.18h28.71M15.56 16.18h32.52M48.09 16.18h36.01M142.42 16.18h34.35M176.77 16.18h35.8M-7.27 19.08h24.5M69.14 19.08h33.12M102.26 19.08h20.53M144.58 19.08h38.61M100.39 21.55h23.71M124.1 21.55h26.95M151.05 21.55h27.78M59.27 24.45h29.99M89.26 24.45h39.02M150.68 24.45h30.47M167.02 26.91h35.08M202.1 26.91h27.67M32.73 29.81h16.68M136.77 29.81h34.9M2.29 32.28h16.22M18.51 32.28h15.44M33.95 32.28h25.11M129.56 32.28h27.45M157.01 32.28h28.24M-13.58 35.18h26.49M12.91 35.18h30.78M43.69 35.18h39.96M83.65 35.18h11.36M95 35.18h25.02M147.02 35.18h31.33M178.35 35.18h10.19M-9.47 38.08h10.54M1.07 38.08h18.59M19.66 38.08h26.23M57.53 38.08h39.15M143.92 38.08h17.96M161.88 38.08h23.6M202.38 38.08h33.11M-9.29 40.98h35.54M26.25 40.98h36.82M63.07 40.98h36.16M99.23 40.98h21.83M154.51 40.98h14.07M168.58 40.98h15.18M183.76 40.98h13.9M197.66 40.98h19.05M-12.52 43.88h32.82M20.3 43.88h19.65M39.96 43.88h16.98M114.83 43.88h31.75M-9.7 46.78h28.78M19.09 46.78h27.55M46.64 46.78h35.64M82.27 46.78h26.84M120.87 46.78h20.7M-9.2 49.68h25.51M16.31 49.68h29.43M45.74 49.68h12.78M58.52 49.68h15.08M73.6 49.68h36.16M109.76 49.68h27.84M165.67 49.68h39.41M9.37 52.58h25.03M34.4 52.58h34.43M68.83 52.58h18.4M87.23 52.58h16.35M156.33 52.58h11.51M167.85 52.58h13.5M13.58 55.04h33.37M46.96 55.04h34.8M120.04 55.04h29.17M181.05 55.04h35.82M19.43 57.94h26.35M45.78 57.94h37.31M83.09 57.94h20.83M103.92 57.94h18.69M122.61 57.94h29.18M169.07 57.94h35.56M16.13 60.84h19.59M35.72 60.84h17.69M78.81 60.84h15.72M94.53 60.84h10.74M154.31 60.84h29.32M195.86 60.84h32.97M-14.6 63.74h12.59M-2.01 63.74h10.04M8.02 63.74h29.29M78.67 63.74h29.83M108.5 63.74h30.4M156.19 63.74h12.31M183.22 63.74h23.04M3.58 66.64h34.39M195.32 66.64h28.4M35.06 69.11h13.8M48.87 69.11h26.38M75.25 69.11h32.97M108.22 69.11h29.64M151.35 69.11h33.28M184.63 69.11h11M195.63 69.11h27.24M123.94 72.01h35.92M159.85 72.01h10.94M203.22 72.01h24.81M74.85 74.47h24.71M99.57 74.47h24.53" stroke-opacity="0.15"/><path d="M2.77 23.96v31.54M5.77 43.55v44.38M8.32 -13.13v36.23M11.32 78.92v17.86M14.32 61.41v14.72M17.32 -16.21v22.92M17.32 6.71v21.52M17.32 28.23v37.66M19.87 -15.07v39.34M25.42 -17.74v24.44M25.42 6.7v14.5M25.42 39.69v43.36M27.97 19.87v30.41M27.97 77.97v33.67M30.97 -16.95v34.7M30.97 52.61v33.1M33.97 79.73v36.05M36.97 -17.52v14.59M36.97 -2.92v29.88M36.97 26.96v30.51M39.52 1.4v36.72M42.07 53.69v17.86M45.07 -16.77v40.49M45.07 61.37v31.97M48.07 -12.07v38.56M51.07 -13.39v34.8M51.07 62.89v16.83M56.62 52.83v36.36M63.07 -14.83v42.76M63.07 27.93v41.59M65.62 -14.03v31.52M65.62 33.91v40.28M65.62 74.19v26.08M69.07 21.15v33.89M69.07 55.04v19.24M69.07 74.28v36.46M72.07 -11.57v44.41M72.07 32.84v42.43M72.07 75.27v23.56M75.52 -9.62v22.42M75.52 53.74v42.72M78.52 13.43v25.16M81.97 81.29v33.02M87.52 0.07v28.98M87.52 72.67v33.17M90.97 -8.18v29.17M90.97 54.29v37.84M93.97 29.8v29.88M93.97 59.68v36.39M103.87 -10.64v29.97M106.42 29.9v41.62M112.87 30.62v28.39M122.32 61.92v15.8M125.32 19.52v20.18M125.32 39.69v41.21M125.32 80.9v17.26M130.87 72.52v26.12M133.42 -12.04v33.99M135.97 -8.36v42.59M138.97 15.44v16.75M138.97 32.18v29.48M142.42 -13.7v32.86M145.42 42.07v13.8M148.42 -9.16v32.12M148.42 22.96v44.51M148.42 67.46v41.24M150.97 -16.14v29.28M150.97 13.14v43.19M153.97 21.31v23.21M153.97 75.92v13.7M156.97 38.56v40.64M166.87 21.56v12.44M166.87 71.81v37.72M172.87 18.68v32.21M175.87 42.74v20.96M175.87 63.7v38.93M178.42 -14.38v21.7M178.42 40.51v13.38M178.42 72.89v12.1M181.87 -8.26v25.57M184.87 75.92v26.53M187.87 39.16v12.23M190.42 6.27v33.87M190.42 40.14v42.68M193.87 -16.44v39.04M197.32 68.01v24.4M-0.2 1.68h30.83M30.62 1.68h23.46M78.49 1.68h34.68M160.04 5.02h15.75M-11.81 7.48h26.68M63.41 7.48h23.5M198.04 7.48h38.84M67.33 10.38h12.74M191.5 10.38h16.94M-8.49 12.85h19.94M68.91 12.85h19.45M154.53 12.85h27.16M84.1 16.18h24.22M108.32 16.18h34.1M17.22 19.08h19.37M36.59 19.08h32.55M122.79 19.08h21.79M183.19 19.08h13.97M197.16 19.08h22.29M-9.85 21.55h22.32M12.48 21.55h38.95M178.84 21.55h13.42M-8.35 24.45h35.52M181.14 24.45h34.82M-8.66 26.91h30.4M21.74 26.91h35.2M56.94 26.91h37.88M94.81 26.91h16.28M111.1 26.91h15.89M63.01 29.81h33.86M202.02 29.81h20.19M-11.37 32.28h13.65M111.68 32.28h17.88M120.02 35.18h27M188.55 35.18h35.99M96.68 38.08h29.78M126.46 38.08h17.46M75.2 43.88h11.53M103.69 43.88h11.14M141.57 46.78h39.57M181.14 46.78h14.66M195.8 46.78h24.49M137.59 49.68h28.07M103.57 52.58h23.2M126.77 52.58h29.56M-11.88 55.04h25.46M81.76 55.04h38.28M149.21 55.04h31.84M-8.07 57.94h27.51M-12.5 60.84h28.63M53.41 60.84h25.4M105.27 60.84h14.68M119.96 60.84h34.35M183.63 60.84h12.23M37.32 63.74h31.05M68.37 63.74h10.3M138.9 63.74h17.29M168.49 63.74h14.72M96.91 66.64h31.48M-8.42 69.11h31.34M137.86 69.11h13.49M170.79 72.01h32.42M38.9 74.47h35.96M124.09 74.47h29.51M153.6 74.47h19.82" stroke-opacity="0.35"/><path d="M5.77 -10.67v12.46M8.32 23.1v13.9M8.32 37v31.44M11.32 48.01v30.91M14.32 -14.76v17.4M14.32 2.64v29.61M14.32 32.25v29.16M22.87 -12.49v13.11M22.87 45.05v19.33M27.97 -13.56v33.43M27.97 65.58v12.39M30.97 17.74v34.87M36.97 57.47v26.84M39.52 76.31v33.6M42.07 -12.2v21.15M42.07 8.95v44.74M45.07 23.73v37.64M48.07 82.59v34.04M54.07 12.93v20.56M75.52 12.81v13.34M78.52 -8.35v21.78M78.52 67.03v41.65M84.52 45.51v40.84M87.52 -14.02v14.1M90.97 20.99v33.3M97.42 52.43v42.58M100.42 -17.7v15.66M100.42 12.58v38.25M100.42 50.83v43.59M106.42 -14.57v16.35M106.42 1.78v28.13M106.42 71.52v42.57M109.42 -15.59v30.79M109.42 15.2v38.33M109.42 53.53v16.6M109.42 70.13v23.68M112.87 59.01v21.44M115.87 22.21v16.61M115.87 38.83v44.2M118.87 2.97v34.34M122.32 -8.99v31.28M122.32 22.29v39.63M122.32 77.72v14.12M130.87 1.29v20.76M130.87 22.05v27.32M135.97 34.23v16.84M135.97 51.07v34.05M138.97 61.67v43.44M142.42 53.45v20.87M142.42 74.32v35.99M145.42 14.24v27.83M153.97 -15.3v36.62M153.97 44.52v31.41M159.97 -11.33v30.85M159.97 19.52v27.04M159.97 46.57v32.45M163.42 -10.82v28.65M163.42 17.83v37.89M163.42 55.72v39.82M166.87 34.01v37.81M169.87 3.75v40.98M169.87 60.34v31.38M175.87 26.76v15.98M178.42 53.89v19M181.87 17.31v27.98M181.87 59.93v20.91M184.87 35.89v40.04M187.87 25.66v13.5M187.87 51.39v32.62M190.42 -13.71v19.98M193.87 22.6v14.89M193.87 37.49v39.84M197.32 -15.48v21.68M197.32 6.2v25.88M197.32 45.21v22.8M6.36 5.02h35.79M42.16 5.02h14.7M14.87 7.48h15.65M30.52 7.48h32.88M165.35 7.48h32.69M192.26 21.55h24.27M27.17 24.45h32.1M128.28 24.45h22.39M146.76 26.91h20.27M-6.09 29.81h38.82M49.41 29.81h13.6M96.87 29.81h26M122.87 29.81h13.9M171.67 29.81h30.36M59.06 32.28h39.61M98.66 32.28h13.02M121.06 40.98h33.45M86.73 43.88h16.96M146.58 43.88h14.3M171.46 43.88h34.55M109.11 46.78h11.76M181.34 52.58h23.71M151.79 57.94h17.28M-9.04 66.64h12.62M37.97 66.64h31.36M69.33 66.64h27.58M158.97 66.64h36.35M22.92 69.11h12.14M-6.18 72.01h32.26M26.08 72.01h21.53M47.61 72.01h15.26M62.87 72.01h27.24M90.11 72.01h33.82M-9.42 74.47h16.41M173.42 74.47h35.77" stroke-opacity="0.6"/><path d="M8.32 68.44v32.49M11.32 -13.66v40.38M11.32 26.73v21.28M14.32 76.13v30.74M19.87 24.27v30M19.87 54.27v31.56M22.87 64.38v13.88M25.42 21.2v18.49M33.97 -12.25v21.86M33.97 63.13v16.59M39.52 -11.38v12.78M42.07 71.55v20.76M48.07 69.18v13.41M51.07 21.42v41.48M51.07 79.72v32.48M54.07 -13.66v26.59M54.07 33.49v20.17M59.62 -10.93v14.58M59.62 37.26v44.21M69.07 -10.22v31.37M81.97 16.71v37.52M84.52 -12.21v23.56M84.52 11.34v34.17M93.97 -12.3v42.1M103.87 52.29v42.36M118.87 37.31v31.82M128.32 -11.35v30.6M130.87 -12.47v13.76M133.42 58.13v41.04M138.97 -17.47v32.91M145.42 -15.87v30.1M150.97 75.39v29.74M159.97 79.01v37.16M169.87 44.73v15.61M175.87 -17.37v44.13M178.42 22.15v18.35M181.87 45.29v14.64M184.87 -9.08v44.97M193.87 77.34v22.38M149.17 1.68h20.24M195.41 1.68h31.18M56.86 5.02h32.17M99.15 7.48h29.31M51.43 21.55h34.14M85.57 21.55h14.82M126.99 26.91h19.77M185.25 32.28h20.51M45.9 38.08h11.63M185.48 38.08h16.9M56.94 43.88h18.26M160.89 43.88h10.57M-11.36 52.58h20.73M128.4 66.64h30.57M6.99 74.47h31.91" stroke-opacity="0.9"/></g></g></g></g>
<g transform="translate(892.4 1164.2)"><g><g clip-path="url(#fc7)"><rect x="-5" y="-8" width="250.7" height="98.3" fill="#e00c04"/><g filter="url(#b1.2)"><ellipse cx="0" cy="39.8" rx="10" ry="25.6" fill="#dc640c"/><ellipse cx="240.7" cy="37" rx="9.5" ry="27" fill="#dc640c"/></g><g filter="url(#b2.5)"><rect x="40" y="-8" width="14" height="98.3" fill="#ff2010" opacity="0.25"/><rect x="90" y="-8" width="20" height="98.3" fill="#900000" opacity="0.15"/><rect x="150" y="-8" width="16" height="98.3" fill="#ff2010" opacity="0.2"/><rect x="200" y="-8" width="14" height="98.3" fill="#900000" opacity="0.12"/></g><g stroke="#2a0000" stroke-width="1.2" fill="none" opacity="0.7"><path d="M0.07 44.45v38.32M5.67 -17.82v31.99M23.31 30.68v89.34M88.83 64v44.25M95.27 -10.83v40.57M113.75 60.41v38.02M145.67 60.42v76.26M173.67 65.31v72.47M185.71 30.83v76.04M192.15 -10.42v72.35M-10.21 3.26h38.79M75 3.26h40.55M115.56 3.26h33.57M149.12 3.26h74.37M223.5 3.26h65.24M-8.66 6.66h66.78M58.12 6.66h24.69M150.8 6.66h49.16M199.96 6.66h61.48M30.73 9.55h38.48M179.34 9.55h61.87M171.07 12.95h35.54M206.61 12.95h56.81M41.3 16.35h72.19M113.49 16.35h47.2M160.69 16.35h47.63M208.32 16.35h72.62M-10.88 19.75h31.98M21.1 19.75h20.79M107.63 19.75h49M156.63 19.75h32.42M189.05 19.75h47.67M236.73 19.75h76.54M60.86 22.64h68.82M129.68 22.64h21.13M229.65 22.64h34.28M-8.98 26.04h23.12M14.14 26.04h69.27M83.41 26.04h44.24M127.65 26.04h29.71M157.36 26.04h24.45M82.09 28.93h41.54M186.7 28.93h29.94M42.77 32.33h73.86M116.63 32.33h31.28M147.91 32.33h47.39M47.24 35.73h78.11M125.35 35.73h62.97M234.33 35.73h78.88M40.46 39.13h69.72M237.76 39.13h66.03M-13.67 43.04h21.64M69.23 43.04h76.6M145.83 43.04h78.33M224.16 43.04h47.17M-8.44 46.95h31.2M120.99 46.95h40.54M197.97 46.95h71.65M199.1 50.35h30.22M-8.72 53.75h27.58M18.86 53.75h54.19M73.05 53.75h32.97M106.02 53.75h52.85M158.86 53.75h26.11M184.97 53.75h54.14M239.12 53.75h23.4M19.51 57.15h25.22M44.73 57.15h28.05M72.77 57.15h69.82M238.96 57.15h22.95M229.37 60.55h21.41M65.47 64.46h34.95M30.12 67.86h48.91M116.55 67.86h75.11M217.48 67.86h29.02M-10.99 70.75h64.68M147.47 70.75h60.15M244.92 70.75h62.69M243.35 74.15h66.54M-13.17 77.55h71.79M58.61 77.55h37.96M96.57 77.55h64M160.57 77.55h65.84M226.41 77.55h76.78M128.27 81.46h75.51" stroke-opacity="0.15"/><path d="M5.67 58.04v61.56M12.11 22.29v54.18M12.11 76.47v49.82M29.75 -16.68v69.07M35.35 -11.31v79.13M35.35 67.82v45.8M46.55 -15.9v48.38M56.91 -14.7v47.09M61.67 -12.55v78.03M66.43 71.71v87.65M72.03 -15.13v81.25M77.63 -16.6v88.89M88.83 -12.9v76.9M113.75 -12.62v73.02M119.35 71.12v64.78M124.11 -15.33v42.46M124.11 27.13v82.95M134.47 -12.72v79.67M134.47 66.95v62.19M140.07 -10.11v32M140.07 21.9v72.44M145.67 -11.46v71.87M156.87 -12.18v34.08M161.63 -10.77v46.35M161.63 35.58v83.36M167.23 -12.03v76.63M180.11 -12.92v48.36M180.11 35.44v86.38M197.75 75.41v75.62M208.95 21.98v56.4M214.55 -10.35v89.58M220.15 -17.1v49.34M231.35 38.59v77.09M236.95 73.46v58.1M28.58 3.26h46.42M82.81 6.66h67.99M69.22 9.55h39.48M241.2 9.55h50.59M-8.64 12.95h52.7M44.06 12.95h55.67M41.88 19.75h65.75M-13.54 22.64h74.4M150.81 22.64h78.84M216.64 28.93h20.82M237.46 28.93h75.42M-13.3 32.33h56.07M188.32 35.73h46.01M-11.34 39.13h51.8M110.18 39.13h50.64M22.75 46.95h33.81M56.57 46.95h64.43M-9.99 50.35h47.91M84.68 50.35h48.04M229.32 50.35h77M-7.53 57.15h27.04M142.59 57.15h27.34M58.57 60.55h49.8M175.54 60.55h53.83M-14.29 64.46h79.76M123.81 64.46h54.28M178.1 64.46h72.36M-12.26 67.86h42.38M79.04 67.86h37.51M191.66 67.86h25.82M246.5 67.86h29.08M53.69 70.75h41.37M-7.97 74.15h61.77M108.44 74.15h58.55M166.99 74.15h76.36M203.79 81.46h51.19" stroke-opacity="0.35"/><path d="M0.07 -9.12v53.57M0.07 82.77v43.91M5.67 14.17v43.87M17.71 -10.1v43.02M23.31 -11.56v42.23M29.75 52.39v77.8M41.79 -11.96v68.81M46.55 32.48v67.43M52.15 32.63v66.08M61.67 65.48v77.33M66.43 -10.68v82.39M72.03 66.11v59.89M77.63 72.28v65.44M83.23 -9.38v73.51M83.23 64.13v88.39M95.27 67.23v33M100.87 70.91v71.36M107.31 46.51v54.08M119.35 -15.45v86.57M129.71 -13.42v44.56M129.71 31.15v74.11M151.27 54.77v57.12M156.87 21.9v78.49M167.23 64.59v66.31M173.67 -15.68v80.99M192.15 61.93v87.28M197.75 -10.73v36.48M197.75 25.75v49.67M208.95 -9.41v31.39M208.95 78.38v58.68M220.15 87.32v71.05M224.91 -16.83v54.73M231.35 -17.1v55.69M236.95 -16.71v48.4M236.95 31.69v41.77M-8.56 9.55h39.29M108.7 9.55h70.64M-10.75 16.35h52.05M181.81 26.04h78.47M-9.25 28.93h34.97M25.71 28.93h56.38M123.63 28.93h63.07M160.82 39.13h76.94M132.73 50.35h66.37M108.37 60.55h67.17M100.42 64.46h23.39M95.06 70.75h31.27M126.33 70.75h21.14M207.62 70.75h37.3M53.81 74.15h54.64M-6.08 81.46h56.26" stroke-opacity="0.6"/><path d="M12.11 -8.93v31.22M17.71 32.91v62.84M41.79 56.84v87.68M52.15 -8.94v41.57M56.91 32.39v80.35M95.27 29.74v37.49M100.87 -15.89v86.8M107.31 -14.95v61.46M151.27 -16.85v71.62M185.71 -11.98v42.81M202.51 -11.09v77.93M202.51 66.84v43.52M214.55 79.23v51.54M220.15 32.24v55.08M224.91 37.9v38.16M224.91 76.06v77.21M99.73 12.95h71.35M195.3 32.33h61.94M-12.46 35.73h59.71M7.97 43.04h61.26M161.53 46.95h36.44M37.92 50.35h46.76M169.93 57.15h69.03M-14.44 60.55h73.01M50.17 81.46h78.1" stroke-opacity="0.9"/></g></g></g></g>
<g transform="translate(1204.2 1160.5)"><g><g clip-path="url(#fc8)"><rect x="-5" y="-8" width="242.8" height="99.7" fill="#e2660c"/><g filter="url(#b0.8)"><path d="M-6 -10L112 -10L103 10L97.5 30L96 42L98 55L104 72L112 95L-6 95Z" fill="#de1c0c"/><ellipse cx="0" cy="40" rx="6" ry="26" fill="#dc640c"/><path d="M153.88 8.8L174.81 15.55L197.76 26.35L215.31 18.25L230.84 -0.65L234.21 11.5L218.01 41.2L232.86 70.9L230.84 81.71L212.61 64.15L196.41 58.75L177.51 65.5L155.23 72.93L159.96 54.7L163.33 41.2L158.61 25Z" fill="#e01c0c"/><ellipse cx="1.5" cy="8" rx="2" ry="2" fill="#ffc010"/><ellipse cx="1.5" cy="77" rx="2" ry="2" fill="#ffc010"/></g><g filter="url(#b2.5)"><rect x="24" y="-8" width="14" height="99.7" fill="#ff3018" opacity="0.3"/><rect x="50" y="-8" width="22" height="99.7" fill="#900000" opacity="0.2"/><rect x="78" y="-8" width="12" height="99.7" fill="#ff3018" opacity="0.2"/><rect x="150" y="-8" width="16" height="99.7" fill="#ff8020" opacity="0.2"/></g><g stroke="#2a0000" stroke-width="1.2" fill="none" opacity="0.66"><path d="M5.19 -11.25v49.82M10.79 18.34v37.58M16.39 -17.53v42.1M36.27 54.39v81.8M41.87 39.64v41.61M65.11 -12.99v36.46M76.31 -9.66v51.94M86.67 15.87v40.96M93.11 -15.66v52.64M98.71 -8.58v70.84M103.47 -13.49v37.75M113.83 -9.01v87.31M125.03 -8.11v63.68M125.03 55.57v86.54M130.63 46.61v61.2M147.43 69.62v76.83M158.63 35.37v66.57M181.03 35.85v71.08M221.07 42.07v86.51M226.67 -15.32v46.06M-10.64 0.75h60.21M49.57 0.75h53.63M103.2 0.75h66.94M170.14 0.75h35.09M205.23 0.75h44.44M147.03 4.66h32.9M179.93 4.66h79.68M202.4 8.06h65.71M212.03 11.46h49.99M-15.68 14.86h33.06M17.38 14.86h22.93M60.65 14.86h23.73M84.37 14.86h24.59M108.97 14.86h25.3M134.27 14.86h31.63M165.9 14.86h58.07M223.97 14.86h32.44M-15.48 18.26h62.57M47.09 18.26h39.68M86.78 18.26h46.42M133.19 18.26h76.26M-12.65 22.17h24.33M11.67 22.17h69.94M81.61 22.17h73.53M155.14 22.17h55.85M49.07 26.08h25.05M132.02 26.08h20.62M220.27 26.08h43.6M72.23 29.99h76.94M149.17 29.99h40.12M189.29 29.99h47.38M-6.44 33.39h61.4M54.96 33.39h27.23M160.97 33.39h48.84M209.81 33.39h59.2M-7.77 36.79h56.74M85.37 36.79h50.56M227.96 36.79h64.34M58.09 40.19h28.7M178.76 40.19h31.78M210.54 40.19h61.43M60.62 43.59h50.92M111.54 43.59h42.78M154.32 43.59h56.3M210.62 43.59h37.31M-7.35 46.48h54.76M102.09 46.48h63.58M209.55 46.48h53.68M-11.22 49.88h40.19M185.47 49.88h22.91M72.39 53.79h39.64M153.55 53.79h58.13M-7.08 57.19h31.81M24.73 57.19h33.09M57.82 57.19h38.14M95.95 57.19h22.21M164.68 60.59h64.53M229.21 60.59h34.81M74.37 64.5h34.37M-6.12 67.39h44.5M38.38 67.39h55.72M128.03 67.39h62.4M212.18 67.39h45.84M-14.72 71.3h23.5M8.79 71.3h32.12M40.9 71.3h22.36M-12.97 74.19h25.92M12.95 74.19h28.88M116.64 74.19h70M186.64 74.19h32.9M57.59 78.1h38.45M96.04 78.1h79.04M-9.56 82.01h22.41M12.84 82.01h64.93M77.77 82.01h35.64M113.41 82.01h73.08M186.49 82.01h39.15M225.64 82.01h62.96" stroke-opacity="0.15"/><path d="M16.39 61.81v36.72M21.15 72.99v43.61M31.51 -13.87v43.76M31.51 29.89v44.64M31.51 74.53v89.24M36.27 -15.93v30.55M41.87 -8.48v48.12M53.91 -13.71v43.99M53.91 30.28v64.84M60.35 -9.29v71.06M65.11 23.47v81.28M70.71 -15.78v55.01M81.91 -9.3v71.51M81.91 62.21v70.82M93.11 86.07v88.89M103.47 24.25v82.98M109.07 18.95v89.53M119.43 -15.15v60.46M136.23 -15.04v82.15M140.99 76.57v46.15M147.43 37.99v31.63M153.03 78.76v30.14M158.63 -8.49v43.86M165.07 -14.84v76.03M165.07 61.19v37.95M176.27 65v84.45M181.03 -16.91v52.76M209.87 39.17v34.76M215.47 44.77v53.1M232.27 -12.84v86.66M-10.62 4.66h24.86M39.69 4.66h41.4M99.1 11.46h37.86M136.96 11.46h75.06M40.31 14.86h20.33M209.45 18.26h61.94M74.12 26.08h57.9M152.64 26.08h67.63M35.11 29.99h37.12M236.66 29.99h73.54M82.19 33.39h37.73M48.98 36.79h36.39M135.93 36.79h33.02M117.17 40.19h61.59M165.67 46.48h43.88M114.72 49.88h34.03M208.38 49.88h27.27M235.65 49.88h79.29M-7.45 53.79h46.29M38.84 53.79h33.54M112.03 53.79h41.52M211.69 53.79h45.15M118.17 57.19h46.22M-12.93 60.59h60.24M98.94 60.59h65.74M25.93 64.5h48.44M94.1 67.39h33.93M63.27 71.3h39.41M192.51 71.3h29.33M41.83 74.19h74.82M175.08 78.1h59.15" stroke-opacity="0.35"/><path d="M0.43 38.05v59.78M10.79 -11.71v30.04M10.79 55.92v73.84M21.15 -12.31v85.31M26.75 -9.67v78.86M26.75 69.19v64.11M47.47 41.98v81.75M60.35 61.77v52.23M86.67 56.83v82.88M98.71 62.26v57.87M109.07 -15.52v34.48M119.43 45.31v89.07M130.63 -11.77v58.38M136.23 67.11v69.44M140.99 -11.22v87.79M153.03 -10.96v89.72M170.67 -11.64v64.06M176.27 -16.61v81.61M187.47 -8.29v51.85M187.47 43.57v81.05M193.07 -8.72v66.74M193.07 58.02v46.96M197.83 -14.81v82.32M197.83 67.5v34.77M203.43 -17.73v41.83M203.43 24.1v37.3M203.43 61.4v83.31M209.87 -15.08v54.25M209.87 73.93v89.86M215.47 -9.77v54.54M221.07 -14.36v56.43M226.67 30.74v74.81M-14.31 11.46h46.99M32.68 11.46h66.42M210.99 22.17h55.31M-6.87 26.08h55.94M-10.62 29.99h45.73M168.95 36.79h59.01M-14.82 40.19h72.91M86.79 40.19h30.38M47.41 46.48h54.68M28.96 49.88h43.58M72.55 49.88h42.18M148.75 49.88h36.73M78.69 60.59h20.26M108.74 64.5h66.44M175.18 64.5h63.87M102.68 71.3h62.68M221.85 71.3h42.11M219.55 74.19h66.5M-8.21 78.1h65.8M234.22 78.1h54" stroke-opacity="0.6"/><path d="M0.43 -10.14v48.19M5.19 38.57v71.43M16.39 24.57v37.25M36.27 14.61v39.77M41.87 81.25v30.4M47.47 -17.52v59.5M70.71 39.23v54.04M76.31 42.27v72.79M86.67 -16.21v32.09M93.11 36.98v49.09M113.83 78.3v31.01M147.43 -10.14v48.13M170.67 52.42v78.48M232.27 73.82v35.53M14.24 4.66h25.45M81.08 4.66h65.95M-10.5 8.06h69.97M59.47 8.06h76.99M136.46 8.06h65.94M119.91 33.39h20.61M140.53 33.39h20.44M-13.04 43.59h73.66M164.39 57.19h75.87M47.31 60.59h31.38M-8.94 64.5h34.87M190.43 67.39h21.75M165.36 71.3h27.15" stroke-opacity="0.9"/></g></g></g></g>
<g transform="translate(1048.2 1323.9)"><g><g clip-path="url(#fc9)"><rect x="-5" y="-8" width="243.6" height="98.4" fill="#e00c04"/><g filter="url(#b1.2)"><ellipse cx="0" cy="40.5" rx="4.7" ry="20" fill="#dc640c"/><ellipse cx="233.6" cy="37.8" rx="4.7" ry="19" fill="#dc640c"/><ellipse cx="118.8" cy="40.5" rx="8.8" ry="29" fill="#dc640c"/></g><g filter="url(#b2.5)"><rect x="30" y="-8" width="22" height="98.4" fill="#ff2010" opacity="0.3"/><rect x="62" y="-8" width="18" height="98.4" fill="#900000" opacity="0.18"/><rect x="150" y="-8" width="18" height="98.4" fill="#ff2010" opacity="0.25"/><rect x="190" y="-8" width="20" height="98.4" fill="#ff2010" opacity="0.25"/><rect x="215" y="-8" width="10" height="98.4" fill="#900000" opacity="0.15"/></g><g stroke="#2a0000" stroke-width="1.2" fill="none" opacity="0.7"><path d="M44.91 -16.52v33.8M44.91 17.28v78.49M101.75 17.52v83.78M112.95 -9.99v66.54M112.95 56.55v70.79M118.55 -17.96v70.79M123.31 -16.14v38.29M144.87 -10.03v37.69M144.87 27.66v54.87M150.47 -11.24v74.28M156.07 33.54v80.02M172.87 -11.31v78.6M206.47 -15.58v35.82M211.23 -15.95v53.88M30.97 1.48h31.84M-9.51 4.88h37.35M117.03 4.88h23.75M179.77 4.88h45.98M225.75 4.88h41.36M-15.61 8.28h55.75M88.27 8.28h25.37M113.64 8.28h38.21M208.39 8.28h43.26M23.31 11.68h42.35M65.66 11.68h37.8M103.46 11.68h55.33M158.79 11.68h55.52M-7.83 15.08h29M21.17 15.08h27.55M126.65 15.08h55.55M7.11 18.48h31.49M-6.31 25.28h52.8M46.48 25.28h46.98M93.47 25.28h31.39M154.11 25.28h78.6M-13.57 29.19h74.57M61 29.19h28.34M177.31 29.19h22.79M-6.77 32.59h55.39M48.62 32.59h40.27M112.7 32.59h29.17M141.87 32.59h66.39M208.26 32.59h27.1M39.36 35.48h25.82M65.17 35.48h43.54M150.6 35.48h33.36M183.96 35.48h40.09M54.64 39.39h54.09M108.74 39.39h65.72M210.95 39.39h62.13M233.76 43.3h40.42M-9.02 47.21h38.6M160.94 47.21h55.55M216.49 47.21h50.91M-12.85 51.12h24.99M227.59 51.12h33.53M44.54 54.01h68.54M113.08 54.01h31.15M219.28 54.01h20.37M-15.28 57.41h54.54M39.26 57.41h41.76M81.02 57.41h59.63M140.65 57.41h55.3M-13.01 60.81h73.3M113.93 60.81h27.95M141.88 60.81h79.48M60.58 64.21h67.62M128.2 64.21h23.81M184.28 64.21h27.08M237.88 64.21h25.78M22.85 67.61h60.94M182.8 67.61h61.47M64.08 71.52h46.54M110.62 71.52h64.05M174.67 71.52h49.78M224.45 71.52h60.5M-7.31 74.92h59.72M52.41 74.92h45.55M148.94 74.92h31.8M180.74 74.92h52.7M233.44 74.92h78.97M-6.12 78.83h25.16M97.4 78.83h36.69M211.17 78.83h76.19M-7.89 81.72h43.99M36.1 81.72h44.75M151.25 81.72h20.75M172.01 81.72h59.85" stroke-opacity="0.15"/><path d="M3.19 -14.32v79.02M16.07 34.12v34.25M22.51 54.04v46.83M28.11 24.19v47.07M32.87 -14.54v76.17M32.87 61.64v49.21M38.47 39.79v82.75M50.51 -10.75v42.17M50.51 31.42v69.22M56.11 -15.9v65.38M56.11 49.48v81.66M72.91 58.62v85.82M78.51 -12.22v60.42M84.11 -11.88v75.54M84.11 63.66v87.42M89.71 32.03v84.46M107.35 37.3v64.38M118.55 52.83v86.35M123.31 53.4v77.49M128.07 23.98v59.95M132.83 -16.05v59.86M150.47 63.04v31.41M156.07 -11.61v45.16M167.27 -9.59v88.7M196.11 -14.39v87.87M196.11 73.49v56.45M200.87 -9.04v41.2M211.23 37.94v63.92M215.99 63.56v59.62M221.59 -9.8v88.84M227.19 -12.14v30.84M227.19 77.71v30.87M232.79 -16.04v41.68M232.79 25.64v79.39M-11.01 1.48h41.98M62.8 1.48h34.54M95.16 4.88h21.87M151.86 8.28h56.53M214.3 11.68h52.11M182.2 15.08h73.27M-13.6 18.48h20.7M101.99 18.48h38.84M181.63 18.48h30.42M212.06 18.48h24.97M-11.5 21.88h44M32.51 21.88h58.9M91.41 21.88h62.84M154.25 21.88h76.22M230.47 21.88h72.57M124.86 25.28h29.25M232.71 25.28h69.86M142.45 29.19h34.86M200.1 29.19h52.81M235.36 32.59h28.24M-14.17 35.48h53.52M174.45 39.39h36.5M49.61 43.3h42.82M12.14 51.12h29.86M95.53 51.12h59.58M155.11 51.12h72.48M195.95 57.41h57.16M221.36 60.81h66.42M211.37 64.21h26.52M-6.47 67.61h29.31M83.78 67.61h30.31M114.09 67.61h68.71M-7.69 71.52h23.85M16.16 71.52h47.92M80.85 81.72h26.63M107.48 81.72h43.77" stroke-opacity="0.35"/><path d="M9.63 -9.87v69.1M16.07 -12.81v46.93M22.51 -16.6v70.63M28.11 71.26v83.8M38.47 -13.55v53.34M60.87 -12.81v52.75M60.87 76.6v30.89M66.47 -15.23v82.36M95.31 -16.31v56.04M101.75 -14.57v32.09M107.35 -8.92v46.22M123.31 22.15v31.25M128.07 83.93v31.86M132.83 43.8v49.74M138.43 -8.98v53.21M144.87 82.53v78M161.67 50.36v46.15M172.87 67.28v44.25M179.31 -9.61v84.95M179.31 75.35v75.11M184.91 32.08v55.8M184.91 87.88v47.04M190.51 -14.27v44.08M190.51 29.81v87.05M200.87 32.16v84.68M206.47 81.58v85.06M219.9 1.48h55.4M27.85 4.88h67.32M140.78 4.88h38.99M40.13 8.28h48.14M-7.31 11.68h30.62M48.72 15.08h77.92M237.03 18.48h64.59M89.34 29.19h53.11M88.89 32.59h23.81M108.71 35.48h41.89M224.05 35.48h21.4M-8.59 39.39h63.24M92.43 43.3h69.1M161.53 43.3h72.23M29.57 47.21h66.17M95.75 47.21h65.19M42.01 51.12h53.53M144.23 54.01h75.04M152.01 64.21h32.28M97.96 74.92h50.98M19.05 78.83h35.78M54.83 78.83h42.57M134.09 78.83h77.08M231.85 81.72h37.2" stroke-opacity="0.6"/><path d="M3.19 64.7v69.11M9.63 59.24v60.2M16.07 68.37v61.09M28.11 -9.17v33.36M60.87 39.94v36.66M66.47 67.13v81.79M72.91 -12.83v71.45M78.51 48.2v82.59M89.71 -17.15v49.18M95.31 39.73v85.52M128.07 -11.35v35.32M138.43 44.23v46.27M161.67 -13.99v64.35M167.27 79.11v37.02M184.91 -9.89v41.97M206.47 20.23v61.34M215.99 -13.87v77.43M221.59 79.04v65.77M227.19 18.7v59.01M97.34 1.48h57.68M155.01 1.48h64.88M38.6 18.48h63.39M140.83 18.48h40.81M-13.78 43.3h63.38M-14.2 54.01h58.74M60.29 60.81h53.64M-13.05 64.21h73.63" stroke-opacity="0.9"/></g></g></g></g>
</svg>
</body>
</html>
